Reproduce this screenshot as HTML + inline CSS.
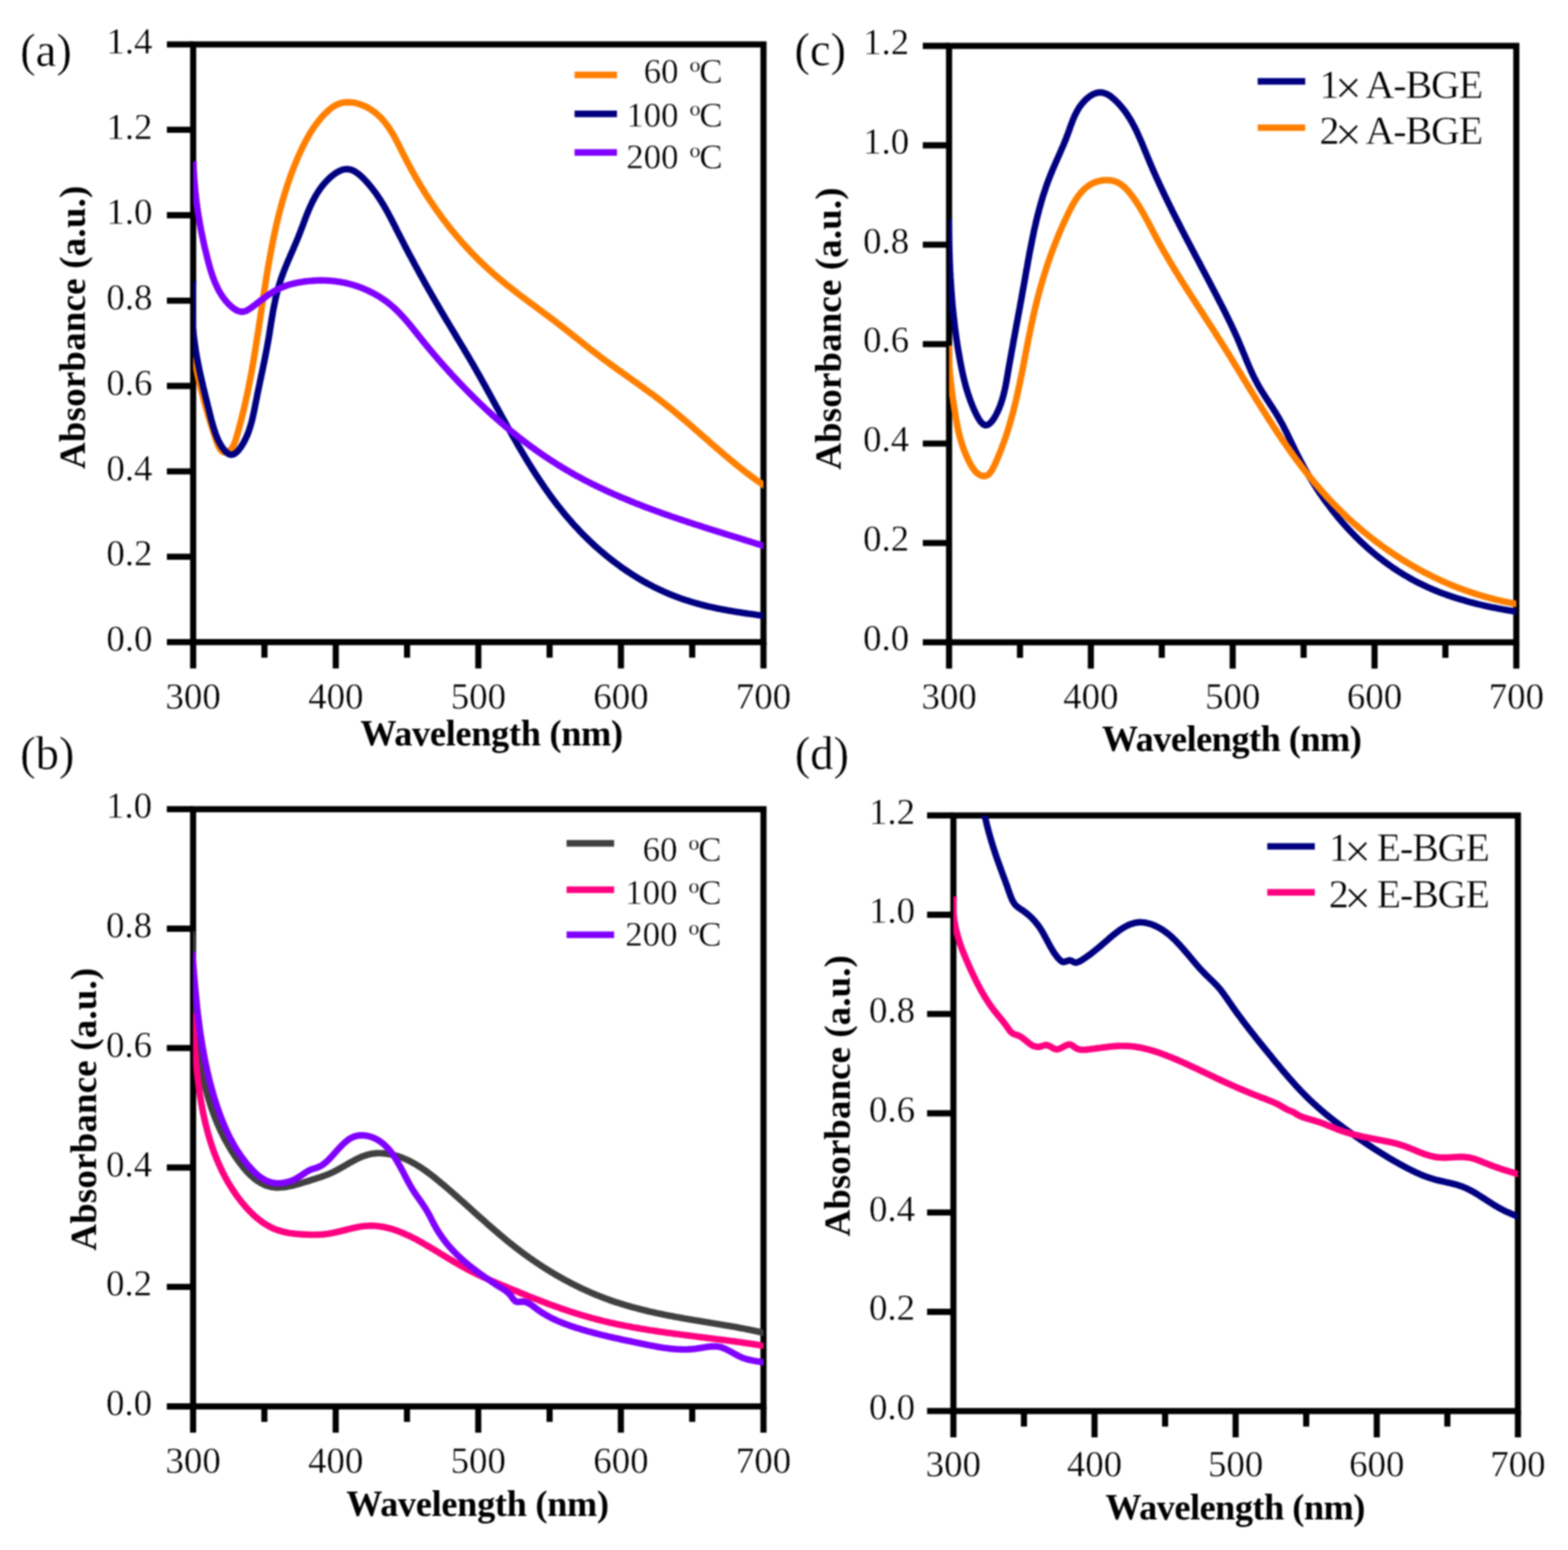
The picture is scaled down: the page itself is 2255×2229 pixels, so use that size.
<!DOCTYPE html>
<html lang="en">
<head>
<meta charset="utf-8">
<title>UV-Vis absorbance spectra</title>
<style>
html,body{margin:0;padding:0;background:#fff;}
body{width:2255px;height:2229px;overflow:hidden;}
svg{display:block;filter:blur(0.8px);}
text{font-family:'Liberation Serif', 'DejaVu Serif', serif;fill:#000;}
.ax{stroke:#000;stroke-width:8.8;fill:none;stroke-linecap:butt;stroke-linejoin:miter;}
.tk text{font-size:53px;}
.tk text,.lg text,.pl{stroke:#fff;stroke-width:0.5px;}
.ti{font-size:52.5px;font-weight:bold;}
.pl{font-size:67px;}
.cv path{fill:none;stroke-width:9.4;stroke-linejoin:round;stroke-linecap:butt;}
.ll{fill:none;stroke-width:9.4;stroke-linecap:butt;}
</style>
</head>
<body>
<svg width="2255" height="2229" viewBox="0 0 2255 2229">
<rect width="2255" height="2229" fill="#fff"/>
<g class="ax">
<rect x="277.8" y="63.9" width="820.2" height="859.5" fill="none"/>
<path d="M277.8 923.4V961.2M380.3 923.4V945.7M482.9 923.4V961.2M585.4 923.4V945.7M687.9 923.4V961.2M790.4 923.4V945.7M893.0 923.4V961.2M995.5 923.4V945.7M1098.0 923.4V961.2M277.8 923.4H240.0M277.8 800.6H240.0M277.8 677.8H240.0M277.8 555.0H240.0M277.8 432.3H240.0M277.8 309.5H240.0M277.8 186.7H240.0M277.8 63.9H240.0"/>
</g>
<g class="tk">
<text x="277.8" y="1018.9" text-anchor="middle">300</text>
<text x="482.9" y="1018.9" text-anchor="middle">400</text>
<text x="687.9" y="1018.9" text-anchor="middle">500</text>
<text x="893.0" y="1018.9" text-anchor="middle">600</text>
<text x="1098.0" y="1018.9" text-anchor="middle">700</text>
<text x="219.3" y="936.2" text-anchor="end">0.0</text>
<text x="219.3" y="813.4" text-anchor="end">0.2</text>
<text x="219.3" y="690.6" text-anchor="end">0.4</text>
<text x="219.3" y="567.8" text-anchor="end">0.6</text>
<text x="219.3" y="445.1" text-anchor="end">0.8</text>
<text x="219.3" y="322.3" text-anchor="end">1.0</text>
<text x="219.3" y="199.5" text-anchor="end">1.2</text>
<text x="219.3" y="76.7" text-anchor="end">1.4</text>
</g>
<text class="ti" x="706.9" y="1072.0" text-anchor="middle" style="font-size:52px;letter-spacing:-0.35px">Wavelength (nm)</text>
<text class="ti" transform="translate(122.0 470.6) rotate(-90)" text-anchor="middle" style="font-size:53px;letter-spacing:0.35px">Absorbance (a.u.)</text>
<text class="pl" x="29.0" y="94.6">(a)</text>
<clipPath id="ca"><rect x="277.8" y="63.9" width="820.2" height="859.5"/></clipPath>
<g class="cv" clip-path="url(#ca)">
<path stroke="#FF8000" d="M278.8 512.5L279.6 516.7L280.4 520.9L281.3 524.9L282.1 528.9L283.0 532.8L283.8 536.7L284.6 540.5L285.5 544.2L286.3 547.9L287.2 551.6L288.1 555.3L289.0 558.9L289.9 562.5L290.8 566.1L291.7 569.7L292.7 573.3L293.7 576.9L294.7 580.5L295.7 584.2L296.7 587.8L297.8 591.5L298.9 595.3L300.0 599.1L301.2 602.9L302.4 606.8L303.6 610.8L304.9 614.8L306.2 618.9L307.5 623.1L308.9 627.4L310.4 631.7L311.9 636.0L313.5 640.1L315.3 643.7L317.3 646.7L319.5 649.0L321.9 650.3L324.7 650.5L327.7 649.6L330.5 647.8L332.9 645.4L335.0 642.4L336.6 639.1L338.0 635.4L339.3 631.6L340.4 627.7L341.5 623.8L342.6 619.9L343.7 616.0L344.7 612.1L345.7 608.3L346.8 604.4L347.7 600.5L348.7 596.7L349.6 592.8L350.6 588.9L351.5 585.1L352.3 581.2L353.2 577.4L354.0 573.5L354.9 569.7L355.7 565.8L356.5 562.0L357.3 558.2L358.0 554.3L358.8 550.5L359.5 546.7L360.3 542.8L361.0 539.0L361.7 535.2L362.4 531.3L363.0 527.5L363.7 523.7L364.4 519.9L365.0 516.0L365.6 512.2L366.3 508.4L366.9 504.6L367.5 500.7L368.1 496.9L368.7 493.1L369.3 489.3L369.9 485.5L370.5 481.6L371.1 477.8L371.7 474.0L372.3 470.1L372.8 466.3L373.4 462.5L374.0 458.7L374.6 454.8L375.1 451.0L375.7 447.1L376.3 443.3L376.8 439.5L377.4 435.6L378.0 431.8L378.6 427.9L379.2 424.0L379.8 420.2L380.4 416.3L381.0 412.5L381.6 408.6L382.2 404.7L382.8 400.8L383.4 397.0L384.1 393.1L384.7 389.2L385.4 385.3L386.0 381.5L386.7 377.6L387.4 373.7L388.1 369.8L388.8 366.0L389.5 362.1L390.3 358.2L391.0 354.4L391.8 350.5L392.5 346.6L393.3 342.8L394.1 338.9L394.9 335.1L395.8 331.2L396.6 327.4L397.5 323.6L398.4 319.7L399.3 315.9L400.2 312.1L401.2 308.3L402.1 304.5L403.1 300.7L404.1 296.9L405.2 293.1L406.2 289.4L407.3 285.6L408.4 281.9L409.5 278.1L410.7 274.4L411.9 270.7L413.0 267.0L414.3 263.3L415.5 259.6L416.8 256.0L418.1 252.3L419.4 248.7L420.8 245.1L422.2 241.4L423.6 237.8L425.1 234.3L426.6 230.7L428.1 227.1L429.6 223.6L431.2 220.1L432.8 216.6L434.4 213.1L436.1 209.6L437.9 206.2L439.6 202.8L441.5 199.4L443.4 196.0L445.3 192.7L447.3 189.4L449.4 186.1L451.6 182.8L453.9 179.6L456.3 176.5L458.7 173.3L461.3 170.2L464.0 167.2L466.7 164.2L469.7 161.3L472.7 158.5L475.8 155.8L479.1 153.5L482.5 151.4L486.0 149.8L489.6 148.5L493.3 147.6L497.1 147.2L500.9 147.0L504.8 147.2L508.6 147.7L512.5 148.4L516.3 149.5L520.0 150.8L523.7 152.3L527.3 154.0L530.8 155.9L534.1 157.9L537.3 160.2L540.3 162.5L543.2 165.0L546.0 167.6L548.6 170.3L551.2 173.1L553.6 176.1L555.9 179.1L558.2 182.2L560.3 185.4L562.4 188.6L564.4 192.0L566.4 195.3L568.3 198.8L570.1 202.2L572.0 205.7L573.8 209.3L575.5 212.8L577.3 216.4L579.1 219.9L580.9 223.5L582.7 227.0L584.5 230.5L586.3 234.1L588.2 237.6L590.1 241.0L591.9 244.5L593.9 248.0L595.8 251.4L597.7 254.8L599.7 258.2L601.7 261.6L603.7 265.0L605.7 268.4L607.8 271.7L609.8 275.0L611.9 278.4L614.0 281.7L616.2 284.9L618.3 288.2L620.5 291.4L622.7 294.7L624.9 297.9L627.1 301.1L629.4 304.3L631.6 307.4L633.9 310.6L636.2 313.7L638.6 316.8L640.9 319.9L643.3 322.9L645.7 326.0L648.1 329.0L650.5 332.0L653.0 335.0L655.5 338.0L658.0 341.0L660.5 343.9L663.0 346.8L665.6 349.8L668.2 352.6L670.8 355.5L673.4 358.3L676.1 361.2L678.7 364.0L681.4 366.8L684.2 369.5L686.9 372.3L689.7 375.0L692.4 377.7L695.2 380.4L698.1 383.0L700.9 385.7L703.8 388.3L706.7 390.9L709.6 393.5L712.5 396.1L715.5 398.6L718.5 401.1L721.5 403.6L724.5 406.1L727.5 408.6L730.6 411.0L733.7 413.4L736.8 415.9L739.8 418.3L743.0 420.7L746.1 423.1L749.2 425.4L752.3 427.8L755.5 430.2L758.6 432.5L761.8 434.9L764.9 437.2L768.1 439.5L771.2 441.9L774.4 444.2L777.5 446.5L780.7 448.9L783.8 451.2L786.9 453.6L790.1 455.9L793.2 458.3L796.3 460.6L799.4 463.0L802.5 465.4L805.6 467.7L808.6 470.1L811.7 472.5L814.7 474.9L817.8 477.3L820.8 479.7L823.8 482.1L826.8 484.5L829.9 486.9L832.9 489.3L835.9 491.7L838.9 494.1L842.0 496.5L845.0 498.9L848.0 501.3L851.1 503.7L854.1 506.0L857.2 508.4L860.3 510.7L863.4 513.1L866.5 515.4L869.6 517.7L872.7 520.0L875.8 522.3L879.0 524.6L882.1 526.8L885.3 529.1L888.4 531.4L891.6 533.6L894.8 535.9L897.9 538.2L901.1 540.4L904.3 542.7L907.5 544.9L910.6 547.2L913.8 549.5L917.0 551.7L920.1 554.0L923.3 556.3L926.5 558.6L929.6 560.9L932.8 563.2L935.9 565.5L939.1 567.8L942.2 570.1L945.3 572.5L948.4 574.9L951.5 577.2L954.6 579.6L957.6 582.0L960.7 584.5L963.7 586.9L966.8 589.4L969.8 591.8L972.8 594.3L975.8 596.8L978.8 599.3L981.8 601.9L984.7 604.4L987.7 606.9L990.7 609.5L993.6 612.0L996.6 614.6L999.5 617.2L1002.4 619.7L1005.4 622.3L1008.3 624.9L1011.3 627.5L1014.2 630.0L1017.1 632.6L1020.1 635.2L1023.0 637.7L1025.9 640.3L1028.9 642.9L1031.8 645.4L1034.8 648.0L1037.8 650.5L1040.7 653.1L1043.7 655.6L1046.7 658.1L1049.7 660.6L1052.7 663.1L1055.7 665.6L1058.7 668.0L1061.7 670.5L1064.8 672.9L1067.8 675.3L1070.9 677.7L1074.0 680.1L1077.1 682.5L1080.2 684.8L1083.4 687.1L1086.5 689.4L1089.7 691.7L1092.9 693.9L1096.1 696.1L1099.3 698.3L1102.6 700.5L1105.8 702.6L1109.1 704.7L1112.5 706.8L1115.8 708.9L1119.2 710.9L1122.6 712.9"/>
<path stroke="#000080" d="M277.8 404.7L277.4 409.2L277.0 413.7L276.8 418.2L276.5 422.6L276.3 427.0L276.2 431.3L276.1 435.6L276.1 439.9L276.1 444.1L276.2 448.4L276.3 452.5L276.5 456.7L276.7 460.8L277.0 465.0L277.3 469.1L277.6 473.1L278.0 477.2L278.4 481.2L278.9 485.3L279.4 489.3L279.9 493.3L280.5 497.3L281.1 501.3L281.7 505.3L282.4 509.3L283.1 513.3L283.8 517.3L284.6 521.2L285.4 525.2L286.2 529.2L287.0 533.2L287.9 537.2L288.8 541.3L289.7 545.3L290.6 549.3L291.6 553.4L292.5 557.5L293.5 561.6L294.5 565.7L295.5 569.8L296.5 574.0L297.6 578.2L298.6 582.4L299.7 586.6L300.8 590.9L301.8 595.2L302.9 599.5L304.0 603.9L305.2 608.2L306.4 612.5L307.7 616.7L309.0 620.9L310.5 625.0L312.0 628.9L313.7 632.8L315.5 636.4L317.5 639.9L319.6 643.2L321.9 646.3L324.4 649.2L327.1 651.7L329.9 653.4L332.7 654.0L335.6 653.4L338.5 651.8L341.2 649.4L343.9 646.3L346.5 642.8L348.9 639.0L351.1 635.1L353.1 631.1L354.9 627.2L356.6 623.1L358.1 619.1L359.4 615.0L360.7 610.9L361.8 606.8L362.9 602.7L363.8 598.5L364.7 594.4L365.6 590.2L366.4 586.1L367.2 581.9L368.0 577.8L368.9 573.7L369.7 569.5L370.5 565.4L371.4 561.3L372.2 557.3L373.1 553.2L373.9 549.1L374.8 545.0L375.6 541.0L376.5 536.9L377.4 532.8L378.2 528.8L379.0 524.7L379.9 520.6L380.7 516.6L381.5 512.5L382.3 508.4L383.1 504.3L383.9 500.2L384.6 496.1L385.4 492.0L386.1 487.9L386.8 483.7L387.5 479.6L388.1 475.4L388.8 471.3L389.4 467.1L390.1 462.9L390.8 458.8L391.5 454.6L392.2 450.5L392.9 446.3L393.7 442.2L394.5 438.0L395.4 433.9L396.2 429.8L397.2 425.7L398.2 421.6L399.2 417.6L400.3 413.6L401.5 409.6L402.7 405.6L404.0 401.6L405.4 397.7L406.8 393.8L408.3 389.9L409.8 386.0L411.4 382.2L413.0 378.3L414.6 374.4L416.3 370.6L417.9 366.8L419.6 362.9L421.3 359.1L422.9 355.2L424.6 351.4L426.2 347.5L427.8 343.7L429.4 339.8L430.9 335.9L432.4 332.0L433.9 328.0L435.4 324.1L436.9 320.2L438.3 316.2L439.8 312.3L441.4 308.4L442.9 304.6L444.6 300.7L446.2 296.9L448.0 293.1L449.8 289.3L451.7 285.7L453.7 282.0L455.9 278.4L458.1 274.9L460.5 271.4L463.0 268.0L465.7 264.7L468.5 261.5L471.5 258.4L474.7 255.3L478.1 252.4L481.6 249.8L485.2 247.5L488.8 245.6L492.5 244.2L496.2 243.4L499.9 243.2L503.6 243.8L507.2 245.0L510.7 246.8L514.1 249.1L517.5 251.8L520.7 254.7L523.9 257.9L526.9 261.1L529.8 264.4L532.6 267.7L535.3 271.1L537.9 274.5L540.5 277.9L542.9 281.4L545.2 284.9L547.5 288.4L549.7 291.9L551.9 295.5L554.0 299.1L556.0 302.7L558.0 306.3L560.0 310.0L561.9 313.7L563.8 317.3L565.7 321.0L567.6 324.7L569.4 328.4L571.3 332.1L573.2 335.8L575.1 339.5L577.0 343.2L578.9 346.9L580.8 350.6L582.7 354.3L584.6 358.0L586.6 361.7L588.5 365.4L590.5 369.1L592.5 372.8L594.5 376.4L596.4 380.1L598.4 383.8L600.5 387.5L602.5 391.2L604.5 394.9L606.5 398.5L608.6 402.2L610.6 405.9L612.7 409.6L614.7 413.2L616.8 416.9L618.9 420.5L621.0 424.2L623.1 427.8L625.2 431.5L627.3 435.1L629.4 438.7L631.5 442.3L633.6 446.0L635.7 449.6L637.9 453.2L640.0 456.8L642.1 460.4L644.3 463.9L646.4 467.5L648.6 471.1L650.7 474.7L652.8 478.2L655.0 481.8L657.1 485.4L659.3 488.9L661.4 492.5L663.6 496.1L665.7 499.6L667.9 503.2L670.0 506.8L672.1 510.3L674.2 513.9L676.3 517.5L678.4 521.1L680.5 524.7L682.6 528.3L684.7 532.0L686.7 535.6L688.8 539.2L690.9 542.9L692.9 546.5L694.9 550.2L697.0 553.8L699.0 557.5L701.0 561.2L703.1 564.9L705.1 568.5L707.1 572.2L709.1 575.9L711.1 579.6L713.1 583.3L715.2 586.9L717.2 590.6L719.2 594.3L721.2 598.0L723.3 601.7L725.3 605.3L727.3 609.0L729.4 612.7L731.4 616.4L733.5 620.0L735.5 623.7L737.6 627.3L739.7 631.0L741.8 634.6L743.8 638.3L745.9 641.9L748.1 645.5L750.2 649.1L752.3 652.8L754.5 656.3L756.6 659.9L758.8 663.5L761.0 667.1L763.2 670.6L765.4 674.2L767.7 677.7L769.9 681.2L772.2 684.7L774.5 688.2L776.8 691.7L779.2 695.2L781.5 698.6L783.9 702.1L786.3 705.5L788.7 708.9L791.1 712.3L793.6 715.6L796.1 719.0L798.6 722.3L801.1 725.6L803.7 728.9L806.3 732.2L808.9 735.4L811.6 738.7L814.2 741.9L816.9 745.0L819.7 748.2L822.4 751.3L825.2 754.5L828.0 757.6L830.9 760.6L833.8 763.7L836.7 766.7L839.6 769.7L842.6 772.6L845.6 775.5L848.6 778.5L851.6 781.3L854.7 784.2L857.8 787.0L861.0 789.8L864.1 792.5L867.3 795.2L870.5 797.9L873.8 800.6L877.0 803.2L880.3 805.8L883.6 808.3L887.0 810.8L890.4 813.3L893.7 815.8L897.2 818.2L900.6 820.5L904.1 822.8L907.6 825.1L911.1 827.4L914.6 829.6L918.2 831.8L921.8 833.9L925.4 836.0L929.1 838.0L932.7 840.0L936.4 841.9L940.1 843.9L943.9 845.7L947.6 847.5L951.4 849.3L955.2 851.0L959.0 852.7L962.9 854.3L966.7 855.9L970.6 857.4L974.5 858.9L978.4 860.4L982.4 861.7L986.4 863.1L990.4 864.3L994.4 865.6L998.4 866.8L1002.4 867.9L1006.5 869.0L1010.6 870.1L1014.6 871.1L1018.7 872.1L1022.8 873.0L1026.9 873.9L1031.1 874.8L1035.2 875.6L1039.3 876.5L1043.5 877.2L1047.6 878.0L1051.8 878.7L1055.9 879.4L1060.1 880.1L1064.2 880.7L1068.4 881.4L1072.6 882.0L1076.7 882.6L1080.9 883.2L1085.0 883.7L1089.1 884.3L1093.3 884.8L1097.4 885.3L1101.5 885.8L1105.6 886.4L1109.7 886.8L1113.8 887.3L1117.8 887.8L1121.9 888.3"/>
<path stroke="#8000FF" d="M278.1 231.9L278.2 234.9L278.3 237.9L278.4 240.8L278.5 243.8L278.7 246.8L278.9 249.7L279.0 252.6L279.2 255.5L279.4 258.4L279.6 261.3L279.9 264.2L280.1 267.1L280.4 269.9L280.6 272.8L280.9 275.6L281.2 278.5L281.5 281.3L281.8 284.1L282.2 287.0L282.5 289.8L282.9 292.6L283.2 295.4L283.6 298.2L284.0 301.0L284.4 303.8L284.9 306.6L285.3 309.4L285.7 312.1L286.2 314.9L286.7 317.7L287.2 320.5L287.7 323.3L288.2 326.1L288.7 328.9L289.3 331.7L289.8 334.5L290.4 337.3L291.0 340.1L291.6 342.9L292.2 345.7L292.8 348.5L293.4 351.3L294.0 354.1L294.7 357.0L295.4 359.8L296.1 362.7L296.8 365.5L297.5 368.4L298.2 371.3L298.9 374.1L299.7 377.0L300.5 379.9L301.3 382.8L302.1 385.7L302.9 388.5L303.8 391.4L304.8 394.2L305.7 397.0L306.7 399.8L307.8 402.5L308.8 405.3L310.0 408.0L311.2 410.6L312.4 413.2L313.7 415.8L315.0 418.3L316.5 420.8L317.9 423.3L319.5 425.6L321.1 428.0L322.8 430.2L324.5 432.4L326.3 434.6L328.2 436.6L330.2 438.6L332.3 440.5L334.5 442.4L336.7 444.0L339.0 445.5L341.4 446.8L343.8 447.7L346.3 448.2L348.8 448.3L351.4 447.9L354.0 447.0L356.6 445.6L359.2 444.0L361.8 442.2L364.3 440.3L366.8 438.4L369.3 436.5L371.7 434.6L374.1 432.8L376.5 431.0L378.9 429.2L381.3 427.4L383.7 425.7L386.0 424.1L388.4 422.4L390.8 420.9L393.3 419.4L395.7 418.0L398.2 416.6L400.7 415.4L403.3 414.2L405.9 413.1L408.5 412.0L411.2 411.0L413.9 410.1L416.6 409.3L419.3 408.5L422.1 407.8L424.8 407.2L427.6 406.6L430.4 406.0L433.3 405.6L436.1 405.1L438.9 404.7L441.8 404.4L444.6 404.1L447.5 403.9L450.3 403.7L453.2 403.5L456.0 403.4L458.9 403.3L461.7 403.3L464.5 403.3L467.4 403.4L470.2 403.5L473.1 403.6L475.9 403.8L478.7 404.1L481.6 404.4L484.4 404.8L487.2 405.2L490.0 405.6L492.9 406.2L495.7 406.7L498.5 407.3L501.3 408.0L504.1 408.8L506.9 409.5L509.7 410.4L512.4 411.3L515.2 412.2L517.9 413.2L520.6 414.2L523.3 415.3L526.0 416.5L528.6 417.6L531.3 418.9L533.9 420.2L536.5 421.5L539.0 422.9L541.5 424.3L544.0 425.8L546.5 427.3L548.9 428.9L551.3 430.5L553.7 432.1L556.0 433.8L558.3 435.5L560.5 437.3L562.7 439.2L564.8 441.0L567.0 442.9L569.0 444.9L571.1 446.8L573.1 448.9L575.1 450.9L577.0 453.0L579.0 455.1L580.9 457.2L582.8 459.3L584.6 461.5L586.5 463.6L588.3 465.8L590.2 468.1L592.0 470.3L593.8 472.5L595.6 474.7L597.4 477.0L599.2 479.2L601.0 481.5L602.8 483.7L604.6 486.0L606.4 488.2L608.2 490.5L610.0 492.7L611.9 495.0L613.7 497.2L615.5 499.4L617.4 501.6L619.2 503.9L621.1 506.1L623.0 508.3L624.8 510.5L626.7 512.7L628.6 514.9L630.5 517.1L632.4 519.3L634.3 521.5L636.2 523.6L638.1 525.8L640.0 528.0L642.0 530.1L643.9 532.3L645.9 534.4L647.8 536.6L649.8 538.7L651.7 540.9L653.7 543.0L655.7 545.1L657.6 547.2L659.6 549.3L661.6 551.4L663.6 553.5L665.6 555.6L667.6 557.7L669.7 559.8L671.7 561.8L673.7 563.9L675.8 566.0L677.8 568.0L679.9 570.1L681.9 572.1L684.0 574.1L686.0 576.1L688.1 578.1L690.2 580.2L692.3 582.2L694.4 584.1L696.5 586.1L698.6 588.1L700.7 590.1L702.9 592.0L705.0 594.0L707.1 595.9L709.3 597.9L711.4 599.8L713.6 601.7L715.8 603.6L717.9 605.5L720.1 607.4L722.3 609.3L724.5 611.2L726.7 613.0L728.9 614.9L731.1 616.7L733.3 618.6L735.6 620.4L737.8 622.2L740.0 624.0L742.3 625.8L744.5 627.6L746.8 629.4L749.1 631.2L751.4 632.9L753.6 634.7L755.9 636.4L758.2 638.1L760.5 639.9L762.8 641.6L765.2 643.3L767.5 644.9L769.8 646.6L772.2 648.3L774.5 649.9L776.9 651.6L779.2 653.2L781.6 654.8L784.0 656.5L786.3 658.1L788.7 659.6L791.1 661.2L793.5 662.8L795.9 664.3L798.4 665.9L800.8 667.4L803.2 668.9L805.7 670.4L808.1 671.9L810.6 673.4L813.0 674.9L815.5 676.3L818.0 677.8L820.4 679.2L822.9 680.6L825.4 682.1L827.9 683.5L830.4 684.8L833.0 686.2L835.5 687.6L838.0 688.9L840.6 690.3L843.1 691.6L845.7 692.9L848.2 694.2L850.8 695.5L853.3 696.8L855.9 698.0L858.5 699.3L861.1 700.6L863.7 701.8L866.3 703.0L868.9 704.2L871.5 705.5L874.1 706.7L876.7 707.8L879.4 709.0L882.0 710.2L884.6 711.4L887.3 712.5L889.9 713.7L892.5 714.8L895.2 715.9L897.9 717.0L900.5 718.1L903.2 719.2L905.9 720.3L908.5 721.4L911.2 722.5L913.9 723.6L916.6 724.6L919.3 725.7L922.0 726.7L924.7 727.8L927.4 728.8L930.1 729.8L932.8 730.9L935.5 731.9L938.2 732.9L940.9 733.9L943.6 734.9L946.4 735.9L949.1 736.8L951.8 737.8L954.5 738.8L957.3 739.8L960.0 740.7L962.7 741.7L965.5 742.6L968.2 743.6L971.0 744.5L973.7 745.4L976.4 746.4L979.2 747.3L981.9 748.2L984.7 749.1L987.4 750.0L990.2 751.0L992.9 751.9L995.7 752.8L998.4 753.7L1001.2 754.6L1004.0 755.4L1006.7 756.3L1009.5 757.2L1012.2 758.1L1015.0 759.0L1017.8 759.9L1020.5 760.7L1023.3 761.6L1026.0 762.5L1028.8 763.3L1031.5 764.2L1034.3 765.1L1037.1 765.9L1039.8 766.8L1042.6 767.7L1045.3 768.5L1048.1 769.4L1050.8 770.2L1053.6 771.1L1056.3 771.9L1059.1 772.8L1061.8 773.6L1064.6 774.5L1067.3 775.3L1070.1 776.2L1072.8 777.1L1075.6 777.9L1078.3 778.8L1081.0 779.6L1083.8 780.5L1086.5 781.3L1089.2 782.2L1092.0 783.0L1094.7 783.9L1097.4 784.8L1100.1 785.6L1102.9 786.5L1105.6 787.4L1108.3 788.2L1111.0 789.1L1113.7 790.0L1116.4 790.8L1119.1 791.7L1121.8 792.6"/>
</g>
<g class="lg" style="font-size:50px">
<path class="ll" stroke="#FF8000" d="M826.3 107.8H887.3"/>
<text x="1039.0" y="119.1" text-anchor="end">60 <tspan dx="3.6" dy="3.6">º</tspan><tspan dx="-1.6" dy="-3.6">C</tspan></text>
<path class="ll" stroke="#000080" d="M826.3 163.8H887.3"/>
<text x="1039.0" y="182.0" text-anchor="end">100 <tspan dx="3.6" dy="3.6">º</tspan><tspan dx="-1.6" dy="-3.6">C</tspan></text>
<path class="ll" stroke="#8000FF" d="M826.3 219.3H887.3"/>
<text x="1039.0" y="241.9" text-anchor="end">200 <tspan dx="3.6" dy="3.6">º</tspan><tspan dx="-1.6" dy="-3.6">C</tspan></text>
</g>
<g class="ax">
<rect x="277.7" y="1163.7" width="820.3" height="858.8" fill="none"/>
<path d="M277.7 2022.5V2060.3M380.2 2022.5V2044.8M482.8 2022.5V2060.3M585.3 2022.5V2044.8M687.8 2022.5V2060.3M790.4 2022.5V2044.8M892.9 2022.5V2060.3M995.5 2022.5V2044.8M1098.0 2022.5V2060.3M277.7 2022.5H239.9M277.7 1850.7H239.9M277.7 1679.0H239.9M277.7 1507.2H239.9M277.7 1335.5H239.9M277.7 1163.7H239.9"/>
</g>
<g class="tk">
<text x="277.7" y="2118.3" text-anchor="middle">300</text>
<text x="482.8" y="2118.3" text-anchor="middle">400</text>
<text x="687.8" y="2118.3" text-anchor="middle">500</text>
<text x="892.9" y="2118.3" text-anchor="middle">600</text>
<text x="1098.0" y="2118.3" text-anchor="middle">700</text>
<text x="218.7" y="2035.1" text-anchor="end">0.0</text>
<text x="218.7" y="1863.3" text-anchor="end">0.2</text>
<text x="218.7" y="1691.6" text-anchor="end">0.4</text>
<text x="218.7" y="1519.8" text-anchor="end">0.6</text>
<text x="218.7" y="1348.1" text-anchor="end">0.8</text>
<text x="218.7" y="1176.3" text-anchor="end">1.0</text>
</g>
<text class="ti" x="686.7" y="2179.7" text-anchor="middle" style="font-size:52px;letter-spacing:-0.35px">Wavelength (nm)</text>
<text class="ti" transform="translate(137.7 1595.0) rotate(-90)" text-anchor="middle" style="font-size:53px;letter-spacing:0.3px">Absorbance (a.u.)</text>
<text class="pl" x="29.0" y="1106.0">(b)</text>
<clipPath id="cb"><rect x="277.7" y="1163.7" width="820.3" height="858.8"/></clipPath>
<g class="cv" clip-path="url(#cb)">
<path stroke="#404040" d="M276.0 1339.1L276.1 1342.1L276.2 1345.0L276.3 1348.0L276.4 1351.0L276.5 1354.0L276.6 1356.9L276.6 1359.9L276.7 1362.9L276.8 1365.9L276.9 1368.9L276.9 1372.0L277.0 1375.0L277.1 1378.0L277.1 1381.0L277.2 1384.1L277.3 1387.1L277.4 1390.2L277.5 1393.2L277.5 1396.3L277.6 1399.3L277.7 1402.4L277.8 1405.5L277.9 1408.5L278.0 1411.6L278.1 1414.7L278.2 1417.7L278.3 1420.8L278.4 1423.9L278.5 1427.0L278.7 1430.1L278.8 1433.1L278.9 1436.2L279.1 1439.3L279.2 1442.4L279.4 1445.5L279.6 1448.6L279.8 1451.7L279.9 1454.8L280.1 1457.9L280.4 1460.9L280.6 1464.0L280.8 1467.1L281.0 1470.2L281.3 1473.3L281.5 1476.4L281.8 1479.5L282.1 1482.6L282.4 1485.6L282.7 1488.7L283.0 1491.8L283.4 1494.9L283.7 1497.9L284.1 1501.0L284.4 1504.1L284.8 1507.1L285.2 1510.2L285.7 1513.2L286.1 1516.3L286.6 1519.3L287.0 1522.4L287.5 1525.4L288.0 1528.5L288.6 1531.5L289.1 1534.5L289.6 1537.5L290.2 1540.5L290.8 1543.5L291.4 1546.5L292.1 1549.5L292.7 1552.5L293.4 1555.5L294.1 1558.5L294.8 1561.5L295.6 1564.4L296.3 1567.4L297.1 1570.3L297.9 1573.3L298.7 1576.2L299.6 1579.1L300.5 1582.0L301.4 1584.9L302.3 1587.8L303.2 1590.7L304.2 1593.6L305.2 1596.5L306.2 1599.3L307.3 1602.2L308.3 1605.0L309.4 1607.9L310.6 1610.7L311.7 1613.5L312.9 1616.3L314.1 1619.1L315.4 1621.8L316.6 1624.6L317.9 1627.4L319.3 1630.1L320.6 1632.8L322.0 1635.6L323.4 1638.3L324.9 1641.0L326.4 1643.6L327.9 1646.3L329.4 1649.0L331.0 1651.6L332.6 1654.2L334.2 1656.9L335.9 1659.5L337.6 1662.1L339.4 1664.6L341.1 1667.2L343.0 1669.7L344.8 1672.3L346.7 1674.7L348.6 1677.2L350.6 1679.6L352.6 1682.0L354.6 1684.3L356.7 1686.5L358.8 1688.7L361.0 1690.8L363.3 1692.8L365.5 1694.7L367.9 1696.5L370.2 1698.3L372.7 1699.8L375.1 1701.3L377.7 1702.6L380.3 1703.8L382.9 1704.9L385.6 1705.8L388.4 1706.5L391.2 1707.1L394.1 1707.4L397.1 1707.7L400.1 1707.7L403.1 1707.6L406.2 1707.4L409.3 1707.1L412.5 1706.6L415.6 1706.0L418.8 1705.4L422.0 1704.6L425.2 1703.8L428.3 1703.0L431.5 1702.1L434.6 1701.1L437.7 1700.1L440.8 1699.2L443.8 1698.2L446.8 1697.2L449.7 1696.3L452.6 1695.4L455.4 1694.5L458.2 1693.6L460.9 1692.7L463.6 1691.8L466.2 1690.8L468.9 1689.8L471.5 1688.8L474.2 1687.7L476.8 1686.5L479.5 1685.3L482.1 1683.9L484.8 1682.6L487.4 1681.1L490.1 1679.6L492.8 1678.1L495.5 1676.5L498.2 1675.0L500.9 1673.4L503.6 1671.8L506.4 1670.3L509.1 1668.8L511.9 1667.3L514.7 1666.0L517.5 1664.7L520.4 1663.4L523.2 1662.3L526.1 1661.4L529.0 1660.5L531.9 1659.8L534.9 1659.2L537.9 1658.8L540.8 1658.5L543.8 1658.4L546.8 1658.4L549.8 1658.5L552.8 1658.7L555.8 1659.0L558.8 1659.5L561.8 1660.1L564.8 1660.7L567.8 1661.5L570.7 1662.3L573.6 1663.2L576.5 1664.2L579.4 1665.3L582.2 1666.5L585.0 1667.7L587.8 1669.0L590.5 1670.4L593.2 1671.8L595.9 1673.3L598.5 1674.8L601.1 1676.4L603.7 1678.0L606.2 1679.7L608.8 1681.4L611.3 1683.1L613.8 1684.9L616.2 1686.7L618.7 1688.6L621.1 1690.4L623.5 1692.3L625.9 1694.2L628.3 1696.2L630.7 1698.1L633.1 1700.1L635.4 1702.1L637.8 1704.0L640.1 1706.0L642.4 1708.0L644.8 1710.0L647.1 1712.0L649.4 1714.0L651.7 1716.0L654.0 1718.1L656.3 1720.1L658.6 1722.1L660.9 1724.2L663.2 1726.2L665.5 1728.2L667.8 1730.3L670.0 1732.3L672.3 1734.4L674.6 1736.4L676.9 1738.5L679.1 1740.5L681.4 1742.6L683.7 1744.6L686.0 1746.7L688.2 1748.7L690.5 1750.7L692.8 1752.8L695.1 1754.8L697.4 1756.8L699.7 1758.9L701.9 1760.9L704.2 1762.9L706.5 1764.9L708.8 1766.9L711.1 1768.9L713.5 1770.9L715.8 1772.9L718.1 1774.9L720.4 1776.9L722.8 1778.8L725.1 1780.8L727.5 1782.7L729.8 1784.7L732.2 1786.6L734.6 1788.5L737.0 1790.4L739.4 1792.3L741.8 1794.2L744.2 1796.0L746.6 1797.9L749.1 1799.7L751.5 1801.5L754.0 1803.4L756.5 1805.2L758.9 1806.9L761.4 1808.7L763.9 1810.5L766.4 1812.2L769.0 1814.0L771.5 1815.7L774.0 1817.4L776.6 1819.1L779.1 1820.7L781.7 1822.4L784.3 1824.0L786.9 1825.7L789.5 1827.3L792.1 1828.9L794.7 1830.4L797.3 1832.0L800.0 1833.6L802.6 1835.1L805.3 1836.6L807.9 1838.1L810.6 1839.6L813.3 1841.1L816.0 1842.5L818.7 1843.9L821.4 1845.4L824.1 1846.7L826.8 1848.1L829.6 1849.5L832.3 1850.8L835.1 1852.2L837.8 1853.5L840.6 1854.7L843.4 1856.0L846.2 1857.3L849.0 1858.5L851.8 1859.7L854.6 1860.9L857.4 1862.1L860.2 1863.2L863.1 1864.3L865.9 1865.5L868.8 1866.5L871.6 1867.6L874.5 1868.7L877.4 1869.7L880.2 1870.7L883.1 1871.7L886.0 1872.7L888.9 1873.6L891.8 1874.5L894.8 1875.4L897.7 1876.3L900.6 1877.2L903.6 1878.1L906.5 1878.9L909.5 1879.7L912.4 1880.5L915.4 1881.3L918.3 1882.1L921.3 1882.9L924.3 1883.6L927.3 1884.3L930.2 1885.1L933.2 1885.8L936.2 1886.5L939.2 1887.1L942.2 1887.8L945.2 1888.5L948.2 1889.1L951.2 1889.7L954.2 1890.4L957.2 1891.0L960.2 1891.6L963.2 1892.2L966.3 1892.7L969.3 1893.3L972.3 1893.9L975.3 1894.4L978.3 1895.0L981.3 1895.5L984.4 1896.1L987.4 1896.6L990.4 1897.1L993.4 1897.7L996.4 1898.2L999.4 1898.7L1002.5 1899.2L1005.5 1899.7L1008.5 1900.2L1011.5 1900.7L1014.5 1901.2L1017.5 1901.7L1020.5 1902.2L1023.5 1902.7L1026.5 1903.1L1029.5 1903.6L1032.5 1904.1L1035.5 1904.6L1038.5 1905.1L1041.5 1905.6L1044.5 1906.1L1047.5 1906.6L1050.4 1907.2L1053.4 1907.7L1056.4 1908.2L1059.4 1908.7L1062.4 1909.3L1065.4 1909.9L1068.4 1910.4L1071.3 1911.0L1074.3 1911.6L1077.3 1912.2L1080.3 1912.8L1083.3 1913.4L1086.3 1914.1L1089.2 1914.7L1092.2 1915.4L1095.2 1916.1L1098.2 1916.8L1101.2 1917.5L1104.2 1918.2L1107.2 1919.0L1110.2 1919.8L1113.1 1920.6L1116.1 1921.4L1119.1 1922.3L1122.1 1923.1"/>
<path stroke="#FF0080" d="M276.5 1456.7L276.6 1459.3L276.8 1462.0L277.0 1464.7L277.2 1467.4L277.4 1470.1L277.6 1472.8L277.8 1475.5L278.0 1478.3L278.2 1481.0L278.4 1483.7L278.5 1486.5L278.7 1489.2L278.9 1492.0L279.1 1494.7L279.4 1497.5L279.6 1500.3L279.8 1503.0L280.0 1505.8L280.2 1508.6L280.4 1511.4L280.7 1514.1L280.9 1516.9L281.2 1519.7L281.4 1522.5L281.7 1525.3L281.9 1528.1L282.2 1530.9L282.5 1533.7L282.8 1536.5L283.1 1539.3L283.4 1542.1L283.7 1544.9L284.0 1547.7L284.3 1550.5L284.7 1553.4L285.0 1556.2L285.4 1559.0L285.7 1561.8L286.1 1564.6L286.5 1567.4L286.9 1570.2L287.3 1573.0L287.8 1575.8L288.2 1578.5L288.7 1581.3L289.1 1584.1L289.6 1586.9L290.1 1589.7L290.6 1592.5L291.1 1595.2L291.7 1598.0L292.2 1600.7L292.8 1603.5L293.4 1606.3L294.0 1609.0L294.6 1611.7L295.2 1614.5L295.9 1617.2L296.6 1619.9L297.3 1622.6L298.0 1625.4L298.7 1628.1L299.4 1630.8L300.2 1633.4L301.0 1636.1L301.8 1638.8L302.6 1641.5L303.4 1644.1L304.3 1646.8L305.2 1649.4L306.1 1652.0L307.0 1654.6L308.0 1657.2L308.9 1659.8L309.9 1662.4L311.0 1665.0L312.0 1667.6L313.1 1670.1L314.2 1672.7L315.3 1675.2L316.4 1677.7L317.6 1680.2L318.8 1682.7L320.0 1685.2L321.2 1687.7L322.5 1690.1L323.8 1692.6L325.1 1695.0L326.4 1697.4L327.8 1699.8L329.2 1702.2L330.7 1704.6L332.1 1707.0L333.6 1709.3L335.1 1711.6L336.7 1713.9L338.2 1716.2L339.9 1718.5L341.5 1720.8L343.2 1723.0L344.9 1725.3L346.6 1727.5L348.4 1729.7L350.2 1731.8L352.0 1734.0L353.8 1736.1L355.7 1738.2L357.7 1740.3L359.6 1742.3L361.6 1744.3L363.6 1746.3L365.7 1748.2L367.8 1750.1L369.9 1751.9L372.1 1753.6L374.3 1755.3L376.5 1757.0L378.8 1758.6L381.1 1760.1L383.4 1761.5L385.8 1762.9L388.2 1764.2L390.7 1765.5L393.1 1766.6L395.7 1767.7L398.2 1768.6L400.8 1769.5L403.4 1770.3L406.1 1771.1L408.8 1771.7L411.5 1772.3L414.2 1772.8L416.9 1773.3L419.7 1773.7L422.4 1774.0L425.2 1774.3L427.9 1774.6L430.7 1774.8L433.5 1775.0L436.2 1775.2L439.0 1775.3L441.7 1775.4L444.4 1775.5L447.1 1775.6L449.8 1775.6L452.4 1775.6L455.1 1775.6L457.8 1775.5L460.4 1775.4L463.1 1775.2L465.8 1775.0L468.4 1774.7L471.1 1774.4L473.8 1773.9L476.5 1773.5L479.2 1772.9L481.9 1772.4L484.6 1771.7L487.3 1771.1L490.0 1770.4L492.7 1769.7L495.5 1769.1L498.2 1768.4L501.0 1767.7L503.7 1767.0L506.4 1766.4L509.2 1765.7L511.9 1765.2L514.7 1764.6L517.4 1764.1L520.1 1763.7L522.9 1763.3L525.6 1763.1L528.3 1762.9L531.0 1762.8L533.7 1762.7L536.4 1762.8L539.1 1762.9L541.8 1763.1L544.5 1763.4L547.2 1763.8L549.9 1764.2L552.5 1764.7L555.2 1765.3L557.8 1765.9L560.5 1766.6L563.1 1767.3L565.7 1768.1L568.4 1769.0L571.0 1769.9L573.6 1770.9L576.2 1771.9L578.8 1773.0L581.4 1774.1L583.9 1775.2L586.5 1776.4L589.1 1777.6L591.6 1778.8L594.1 1780.1L596.7 1781.4L599.2 1782.7L601.7 1784.1L604.2 1785.5L606.7 1786.8L609.2 1788.3L611.6 1789.7L614.1 1791.1L616.6 1792.6L619.0 1794.0L621.4 1795.5L623.9 1796.9L626.3 1798.4L628.7 1799.8L631.1 1801.3L633.4 1802.7L635.8 1804.2L638.2 1805.6L640.5 1807.0L642.9 1808.5L645.2 1809.9L647.6 1811.3L649.9 1812.7L652.3 1814.0L654.6 1815.4L657.0 1816.8L659.3 1818.1L661.7 1819.5L664.1 1820.8L666.4 1822.1L668.8 1823.5L671.2 1824.7L673.6 1826.0L676.0 1827.3L678.5 1828.5L680.9 1829.8L683.4 1831.0L685.8 1832.2L688.3 1833.4L690.8 1834.6L693.3 1835.8L695.8 1836.9L698.4 1838.1L700.9 1839.2L703.4 1840.3L706.0 1841.5L708.5 1842.6L711.1 1843.7L713.7 1844.8L716.3 1845.9L718.8 1847.0L721.4 1848.1L724.0 1849.1L726.6 1850.2L729.2 1851.3L731.7 1852.4L734.3 1853.5L736.9 1854.5L739.5 1855.6L742.1 1856.7L744.7 1857.7L747.3 1858.8L749.9 1859.9L752.5 1860.9L755.1 1862.0L757.7 1863.0L760.2 1864.1L762.8 1865.1L765.5 1866.1L768.1 1867.2L770.7 1868.2L773.3 1869.2L775.9 1870.2L778.5 1871.2L781.1 1872.2L783.7 1873.2L786.3 1874.2L788.9 1875.2L791.6 1876.1L794.2 1877.1L796.8 1878.0L799.4 1879.0L802.1 1879.9L804.7 1880.8L807.3 1881.8L810.0 1882.7L812.6 1883.6L815.2 1884.5L817.9 1885.4L820.5 1886.2L823.2 1887.1L825.8 1887.9L828.5 1888.8L831.1 1889.6L833.8 1890.4L836.5 1891.2L839.1 1892.0L841.8 1892.8L844.5 1893.6L847.2 1894.3L849.8 1895.1L852.5 1895.8L855.2 1896.5L857.9 1897.3L860.6 1897.9L863.3 1898.6L866.0 1899.3L868.7 1900.0L871.4 1900.6L874.1 1901.2L876.8 1901.9L879.5 1902.5L882.2 1903.1L884.9 1903.7L887.7 1904.3L890.4 1904.8L893.1 1905.4L895.8 1905.9L898.6 1906.5L901.3 1907.0L904.0 1907.5L906.8 1908.0L909.5 1908.6L912.3 1909.1L915.0 1909.5L917.8 1910.0L920.5 1910.5L923.3 1911.0L926.0 1911.4L928.8 1911.9L931.5 1912.3L934.3 1912.8L937.0 1913.2L939.8 1913.6L942.5 1914.0L945.3 1914.5L948.1 1914.9L950.8 1915.3L953.6 1915.7L956.4 1916.1L959.1 1916.5L961.9 1916.8L964.7 1917.2L967.4 1917.6L970.2 1918.0L973.0 1918.3L975.8 1918.7L978.5 1919.1L981.3 1919.4L984.1 1919.8L986.8 1920.2L989.6 1920.5L992.4 1920.9L995.2 1921.2L997.9 1921.6L1000.7 1921.9L1003.5 1922.3L1006.3 1922.6L1009.0 1923.0L1011.8 1923.3L1014.6 1923.7L1017.4 1924.0L1020.1 1924.4L1022.9 1924.7L1025.7 1925.1L1028.5 1925.4L1031.2 1925.8L1034.0 1926.1L1036.8 1926.5L1039.5 1926.8L1042.3 1927.2L1045.1 1927.6L1047.8 1927.9L1050.6 1928.3L1053.4 1928.7L1056.1 1929.0L1058.9 1929.4L1061.7 1929.8L1064.4 1930.2L1067.2 1930.6L1069.9 1931.0L1072.7 1931.4L1075.5 1931.8L1078.2 1932.2L1081.0 1932.6L1083.7 1933.0L1086.5 1933.5L1089.2 1933.9L1091.9 1934.3L1094.7 1934.8L1097.4 1935.2L1100.2 1935.7L1102.9 1936.2L1105.6 1936.7L1108.4 1937.1L1111.1 1937.6L1113.8 1938.1L1116.5 1938.6L1119.3 1939.2L1122.0 1939.7"/>
<path stroke="#8000FF" d="M276.5 1368.9L276.7 1372.0L277.0 1375.1L277.2 1378.2L277.4 1381.4L277.7 1384.5L277.9 1387.6L278.2 1390.7L278.4 1393.9L278.7 1397.0L278.9 1400.1L279.2 1403.3L279.4 1406.4L279.7 1409.5L280.0 1412.7L280.2 1415.8L280.5 1419.0L280.8 1422.1L281.1 1425.2L281.4 1428.4L281.7 1431.5L282.0 1434.6L282.3 1437.8L282.6 1440.9L282.9 1444.1L283.3 1447.2L283.6 1450.3L284.0 1453.5L284.3 1456.6L284.7 1459.7L285.1 1462.9L285.5 1466.0L285.9 1469.1L286.3 1472.2L286.7 1475.4L287.1 1478.5L287.5 1481.6L288.0 1484.7L288.4 1487.9L288.9 1491.0L289.4 1494.1L289.9 1497.2L290.4 1500.3L290.9 1503.4L291.4 1506.5L292.0 1509.6L292.5 1512.7L293.1 1515.8L293.7 1518.9L294.3 1522.0L294.9 1525.1L295.5 1528.2L296.1 1531.3L296.8 1534.3L297.5 1537.4L298.1 1540.5L298.8 1543.5L299.6 1546.6L300.3 1549.7L301.0 1552.7L301.8 1555.8L302.6 1558.8L303.4 1561.8L304.2 1564.9L305.1 1567.9L305.9 1570.9L306.8 1574.0L307.7 1577.0L308.6 1580.0L309.5 1583.0L310.5 1586.0L311.5 1589.0L312.5 1592.0L313.5 1594.9L314.5 1597.9L315.6 1600.9L316.7 1603.8L317.8 1606.8L318.9 1609.7L320.1 1612.7L321.3 1615.6L322.5 1618.5L323.7 1621.4L325.0 1624.2L326.3 1627.1L327.7 1629.9L329.0 1632.8L330.4 1635.6L331.9 1638.4L333.4 1641.1L334.9 1643.9L336.4 1646.6L338.0 1649.3L339.6 1652.0L341.3 1654.7L343.0 1657.3L344.8 1659.9L346.6 1662.5L348.4 1665.1L350.3 1667.6L352.2 1670.1L354.2 1672.6L356.2 1675.0L358.3 1677.4L360.4 1679.8L362.6 1682.2L364.8 1684.5L367.1 1686.7L369.4 1688.8L371.9 1690.8L374.3 1692.7L376.9 1694.5L379.5 1696.1L382.2 1697.5L385.0 1698.8L387.9 1699.8L390.8 1700.6L393.9 1701.2L397.0 1701.5L400.2 1701.6L403.4 1701.5L406.6 1701.2L409.8 1700.6L413.0 1699.9L416.2 1699.0L419.3 1698.0L422.3 1696.7L425.2 1695.3L428.0 1693.7L430.7 1692.1L433.3 1690.3L435.8 1688.6L438.4 1686.9L440.9 1685.2L443.4 1683.7L446.0 1682.4L448.7 1681.3L451.4 1680.5L454.2 1679.7L456.8 1678.8L459.4 1677.7L461.9 1676.4L464.3 1674.8L466.6 1673.1L468.9 1671.2L471.1 1669.2L473.3 1667.1L475.5 1664.8L477.6 1662.4L479.8 1660.0L482.0 1657.5L484.3 1654.9L486.6 1652.4L488.9 1649.9L491.3 1647.4L493.7 1645.0L496.2 1642.8L498.7 1640.7L501.3 1638.7L503.9 1637.0L506.7 1635.6L509.5 1634.4L512.4 1633.6L515.3 1633.0L518.3 1632.7L521.3 1632.7L524.4 1632.9L527.4 1633.3L530.4 1634.0L533.4 1634.8L536.3 1635.9L539.1 1637.1L541.9 1638.5L544.6 1640.1L547.1 1641.8L549.6 1643.6L551.9 1645.5L554.2 1647.6L556.3 1649.7L558.4 1652.0L560.5 1654.4L562.4 1656.8L564.3 1659.3L566.1 1661.9L567.8 1664.6L569.6 1667.3L571.2 1670.0L572.8 1672.8L574.4 1675.7L576.0 1678.5L577.5 1681.4L579.1 1684.3L580.6 1687.2L582.1 1690.1L583.6 1693.0L585.1 1695.9L586.6 1698.7L588.1 1701.5L589.7 1704.3L591.2 1707.0L592.8 1709.7L594.5 1712.3L596.1 1714.8L597.8 1717.3L599.5 1719.8L601.3 1722.3L603.0 1724.7L604.7 1727.2L606.4 1729.6L608.1 1732.1L609.8 1734.7L611.5 1737.2L613.1 1739.9L614.7 1742.6L616.3 1745.3L617.8 1748.2L619.3 1751.0L620.8 1754.0L622.3 1756.9L623.8 1759.8L625.3 1762.7L626.9 1765.5L628.5 1768.3L630.2 1771.0L631.9 1773.7L633.7 1776.3L635.5 1778.9L637.3 1781.4L639.2 1783.9L641.1 1786.4L643.0 1788.8L645.0 1791.2L647.0 1793.5L649.1 1795.8L651.2 1798.0L653.3 1800.3L655.5 1802.5L657.6 1804.6L659.9 1806.7L662.1 1808.8L664.4 1810.9L666.7 1813.0L669.1 1815.0L671.4 1817.0L673.8 1819.0L676.3 1820.9L678.7 1822.9L681.2 1824.8L683.7 1826.7L686.2 1828.6L688.8 1830.5L691.3 1832.4L693.9 1834.2L696.5 1836.0L699.1 1837.8L701.7 1839.6L704.4 1841.4L707.0 1843.2L709.7 1844.9L712.3 1846.7L715.0 1848.4L717.7 1850.1L720.4 1851.7L723.0 1853.4L725.6 1855.1L728.2 1856.9L730.6 1858.9L732.8 1861.1L734.8 1863.5L736.6 1866.1L738.4 1868.6L740.3 1870.6L742.5 1871.9L745.2 1872.3L748.1 1872.0L751.2 1871.8L754.2 1872.0L757.0 1872.7L759.7 1873.9L762.4 1875.4L765.0 1877.2L767.6 1879.1L770.1 1881.0L772.7 1883.0L775.3 1884.9L778.0 1886.7L780.7 1888.4L783.4 1890.0L786.1 1891.6L788.9 1893.2L791.6 1894.6L794.4 1896.1L797.3 1897.4L800.1 1898.7L803.0 1900.0L805.9 1901.2L808.8 1902.4L811.7 1903.5L814.6 1904.6L817.6 1905.7L820.5 1906.7L823.5 1907.7L826.5 1908.7L829.5 1909.7L832.5 1910.6L835.5 1911.5L838.5 1912.4L841.5 1913.3L844.5 1914.2L847.5 1915.0L850.5 1915.8L853.6 1916.6L856.6 1917.4L859.6 1918.2L862.7 1919.0L865.7 1919.8L868.8 1920.5L871.9 1921.2L874.9 1922.0L878.0 1922.7L881.1 1923.4L884.1 1924.1L887.2 1924.7L890.3 1925.4L893.4 1926.1L896.4 1926.8L899.5 1927.4L902.6 1928.1L905.7 1928.7L908.8 1929.4L911.9 1930.0L915.0 1930.7L918.1 1931.3L921.1 1931.9L924.2 1932.6L927.3 1933.2L930.4 1933.8L933.5 1934.5L936.6 1935.1L939.7 1935.7L942.8 1936.2L945.9 1936.8L948.9 1937.3L952.0 1937.8L955.1 1938.3L958.2 1938.7L961.3 1939.1L964.4 1939.5L967.5 1939.8L970.6 1940.1L973.7 1940.3L976.9 1940.4L980.0 1940.5L983.1 1940.6L986.2 1940.6L989.3 1940.5L992.4 1940.3L995.6 1940.1L998.7 1939.8L1001.8 1939.4L1005.0 1938.9L1008.1 1938.4L1011.2 1937.9L1014.4 1937.3L1017.5 1936.9L1020.6 1936.5L1023.7 1936.2L1026.7 1936.1L1029.7 1936.2L1032.7 1936.6L1035.7 1937.1L1038.6 1938.0L1041.5 1939.1L1044.3 1940.3L1047.2 1941.8L1050.0 1943.3L1052.9 1944.9L1055.7 1946.5L1058.6 1948.0L1061.4 1949.6L1064.3 1951.0L1067.3 1952.3L1070.2 1953.4L1073.2 1954.4L1076.3 1955.2L1079.3 1955.9L1082.4 1956.5L1085.5 1957.1L1088.6 1957.6L1091.7 1958.0L1094.8 1958.5L1097.9 1959.0L1101.0 1959.5L1104.1 1960.1L1107.1 1960.8L1110.2 1961.5L1113.2 1962.4L1116.2 1963.5L1119.1 1964.7L1122.1 1966.1"/>
</g>
<g class="lg" style="font-size:50px">
<path class="ll" stroke="#404040" d="M814.8 1212.7H883.2"/>
<text x="1037.5" y="1238.0" text-anchor="end">60 <tspan dx="3.6" dy="3.6">º</tspan><tspan dx="-1.6" dy="-3.6">C</tspan></text>
<path class="ll" stroke="#FF0080" d="M814.8 1279.5H883.2"/>
<text x="1037.5" y="1300.2" text-anchor="end">100 <tspan dx="3.6" dy="3.6">º</tspan><tspan dx="-1.6" dy="-3.6">C</tspan></text>
<path class="ll" stroke="#8000FF" d="M814.8 1344.2H883.2"/>
<text x="1037.5" y="1360.1" text-anchor="end">200 <tspan dx="3.6" dy="3.6">º</tspan><tspan dx="-1.6" dy="-3.6">C</tspan></text>
</g>
<g class="ax">
<rect x="1364.9" y="66.0" width="815.8" height="857.7" fill="none"/>
<path d="M1364.9 923.7V961.5M1466.9 923.7V946.0M1568.8 923.7V961.5M1670.8 923.7V946.0M1772.8 923.7V961.5M1874.8 923.7V946.0M1976.8 923.7V961.5M2078.7 923.7V946.0M2180.7 923.7V961.5M1364.9 923.7H1327.1M1364.9 780.8H1327.1M1364.9 637.8H1327.1M1364.9 494.8H1327.1M1364.9 351.9H1327.1M1364.9 209.0H1327.1M1364.9 66.0H1327.1"/>
</g>
<g class="tk">
<text x="1364.9" y="1018.5" text-anchor="middle">300</text>
<text x="1568.8" y="1018.5" text-anchor="middle">400</text>
<text x="1772.8" y="1018.5" text-anchor="middle">500</text>
<text x="1976.8" y="1018.5" text-anchor="middle">600</text>
<text x="2180.7" y="1018.5" text-anchor="middle">700</text>
<text x="1307.4" y="935.3" text-anchor="end">0.0</text>
<text x="1307.4" y="792.4" text-anchor="end">0.2</text>
<text x="1307.4" y="649.4" text-anchor="end">0.4</text>
<text x="1307.4" y="506.4" text-anchor="end">0.6</text>
<text x="1307.4" y="363.5" text-anchor="end">0.8</text>
<text x="1307.4" y="220.6" text-anchor="end">1.0</text>
<text x="1307.4" y="77.6" text-anchor="end">1.2</text>
</g>
<text class="ti" x="1771.3" y="1080.4" text-anchor="middle" style="font-size:52px;letter-spacing:-0.65px">Wavelength (nm)</text>
<text class="ti" transform="translate(1209.2 472.4) rotate(-90)" text-anchor="middle" style="font-size:53px;letter-spacing:0.25px">Absorbance (a.u.)</text>
<text class="pl" x="1142.5" y="93.6">(c)</text>
<clipPath id="cc"><rect x="1364.9" y="66.0" width="815.8" height="857.7"/></clipPath>
<g class="cv" clip-path="url(#cc)">
<path stroke="#000080" d="M1364.4 314.9L1364.4 319.6L1364.5 324.2L1364.6 328.9L1364.6 333.6L1364.7 338.3L1364.8 343.0L1364.9 347.6L1365.0 352.3L1365.2 357.0L1365.3 361.7L1365.5 366.3L1365.6 371.0L1365.8 375.7L1366.0 380.3L1366.2 385.0L1366.4 389.7L1366.7 394.3L1366.9 399.0L1367.2 403.6L1367.5 408.3L1367.8 413.0L1368.1 417.6L1368.5 422.3L1368.8 426.9L1369.2 431.5L1369.6 436.2L1370.0 440.8L1370.5 445.4L1371.0 450.1L1371.4 454.7L1372.0 459.3L1372.5 464.0L1373.0 468.6L1373.6 473.2L1374.2 477.8L1374.9 482.4L1375.5 487.0L1376.2 491.6L1376.9 496.2L1377.6 500.8L1378.4 505.4L1379.2 509.9L1380.0 514.5L1380.8 519.1L1381.7 523.6L1382.6 528.2L1383.5 532.8L1384.5 537.3L1385.5 541.9L1386.6 546.4L1387.8 551.0L1389.0 555.6L1390.3 560.1L1391.7 564.7L1393.2 569.3L1394.8 573.9L1396.5 578.6L1398.4 583.2L1400.3 587.9L1402.4 592.6L1404.7 597.2L1407.0 601.5L1409.4 605.3L1412.0 608.4L1414.6 610.5L1417.3 611.5L1420.0 611.1L1422.7 609.6L1425.4 607.1L1428.1 603.8L1430.6 599.9L1432.9 595.6L1435.1 591.2L1437.1 586.6L1438.8 582.1L1440.4 577.5L1441.8 572.9L1443.1 568.3L1444.2 563.6L1445.3 559.0L1446.3 554.3L1447.2 549.6L1448.0 544.9L1448.8 540.2L1449.6 535.6L1450.4 530.9L1451.2 526.3L1452.0 521.6L1452.9 517.0L1453.7 512.4L1454.5 507.8L1455.3 503.2L1456.2 498.6L1457.0 494.0L1457.8 489.4L1458.7 484.8L1459.5 480.3L1460.4 475.7L1461.2 471.1L1462.0 466.6L1462.9 462.0L1463.7 457.5L1464.6 452.9L1465.4 448.4L1466.3 443.8L1467.1 439.3L1467.9 434.7L1468.8 430.1L1469.6 425.6L1470.4 421.0L1471.2 416.4L1472.1 411.8L1472.9 407.3L1473.7 402.7L1474.5 398.1L1475.3 393.5L1476.1 388.9L1477.0 384.3L1477.8 379.6L1478.6 375.0L1479.5 370.4L1480.3 365.8L1481.2 361.2L1482.1 356.6L1483.0 352.0L1483.9 347.4L1484.8 342.8L1485.8 338.2L1486.7 333.6L1487.7 329.0L1488.8 324.5L1489.8 319.9L1490.9 315.4L1492.0 310.8L1493.2 306.3L1494.3 301.8L1495.6 297.3L1496.8 292.8L1498.1 288.3L1499.4 283.9L1500.8 279.4L1502.3 275.0L1503.7 270.6L1505.2 266.2L1506.8 261.9L1508.4 257.5L1510.1 253.2L1511.8 248.9L1513.6 244.6L1515.4 240.4L1517.3 236.1L1519.1 231.9L1521.0 227.6L1522.9 223.4L1524.8 219.1L1526.6 214.8L1528.5 210.6L1530.3 206.3L1532.1 201.9L1533.8 197.6L1535.4 193.1L1537.1 188.7L1538.6 184.3L1540.2 179.8L1541.9 175.4L1543.6 171.0L1545.5 166.6L1547.6 162.4L1549.8 158.2L1552.4 154.1L1555.2 150.2L1558.3 146.5L1561.8 142.9L1565.5 139.8L1569.4 137.0L1573.5 134.9L1577.6 133.5L1581.8 132.9L1585.9 133.2L1589.9 134.4L1593.8 136.3L1597.6 138.8L1601.2 141.8L1604.7 145.0L1608.1 148.3L1611.2 151.8L1614.2 155.4L1617.1 159.0L1619.8 162.8L1622.3 166.6L1624.8 170.5L1627.2 174.5L1629.4 178.6L1631.6 182.7L1633.7 186.9L1635.7 191.1L1637.6 195.4L1639.5 199.7L1641.4 204.0L1643.2 208.3L1645.0 212.7L1646.8 217.1L1648.6 221.4L1650.4 225.8L1652.2 230.1L1654.0 234.5L1655.9 238.8L1657.7 243.1L1659.6 247.4L1661.5 251.7L1663.4 256.0L1665.4 260.2L1667.3 264.5L1669.3 268.7L1671.3 272.9L1673.3 277.2L1675.3 281.4L1677.3 285.6L1679.3 289.8L1681.4 293.9L1683.4 298.1L1685.5 302.3L1687.6 306.5L1689.7 310.6L1691.8 314.8L1693.9 318.9L1696.0 323.0L1698.1 327.2L1700.2 331.3L1702.4 335.4L1704.5 339.6L1706.7 343.7L1708.8 347.8L1711.0 351.9L1713.1 356.0L1715.3 360.1L1717.5 364.2L1719.6 368.3L1721.8 372.4L1724.0 376.5L1726.2 380.7L1728.3 384.8L1730.5 388.9L1732.7 393.0L1734.9 397.1L1737.0 401.2L1739.2 405.3L1741.3 409.4L1743.5 413.6L1745.7 417.7L1747.8 421.8L1750.0 426.0L1752.1 430.1L1754.2 434.3L1756.4 438.4L1758.5 442.6L1760.6 446.7L1762.7 450.9L1764.8 455.1L1766.8 459.3L1768.9 463.5L1770.9 467.7L1772.9 471.9L1774.9 476.2L1776.8 480.4L1778.7 484.7L1780.6 489.0L1782.4 493.3L1784.2 497.6L1786.0 501.9L1787.8 506.2L1789.6 510.5L1791.3 514.8L1793.1 519.2L1794.9 523.4L1796.7 527.7L1798.6 532.0L1800.5 536.2L1802.5 540.4L1804.6 544.6L1806.7 548.7L1808.9 552.8L1811.2 556.9L1813.6 560.9L1816.1 564.9L1818.6 568.8L1821.1 572.8L1823.7 576.7L1826.2 580.6L1828.8 584.5L1831.3 588.5L1833.9 592.4L1836.3 596.4L1838.7 600.4L1841.0 604.5L1843.3 608.5L1845.5 612.6L1847.6 616.8L1849.7 620.9L1851.8 625.1L1853.8 629.3L1855.8 633.5L1857.8 637.6L1859.9 641.8L1861.9 646.0L1863.9 650.2L1866.0 654.4L1868.1 658.5L1870.3 662.7L1872.5 666.8L1874.7 670.9L1877.0 675.0L1879.3 679.1L1881.6 683.1L1884.0 687.1L1886.5 691.1L1889.0 695.1L1891.5 699.1L1894.0 703.0L1896.6 706.9L1899.2 710.8L1901.9 714.6L1904.6 718.5L1907.4 722.3L1910.2 726.0L1913.0 729.8L1915.8 733.5L1918.7 737.1L1921.7 740.8L1924.7 744.4L1927.7 748.0L1930.7 751.5L1933.8 755.0L1937.0 758.5L1940.1 761.9L1943.3 765.3L1946.6 768.6L1949.8 772.0L1953.2 775.2L1956.5 778.5L1959.9 781.7L1963.3 784.8L1966.8 787.9L1970.3 791.0L1973.8 794.0L1977.4 797.0L1981.0 799.9L1984.6 802.8L1988.3 805.6L1992.0 808.4L1995.8 811.1L1999.5 813.8L2003.3 816.5L2007.2 819.0L2011.1 821.6L2015.0 824.0L2019.0 826.5L2023.0 828.8L2027.0 831.1L2031.0 833.4L2035.1 835.6L2039.2 837.7L2043.4 839.8L2047.6 841.8L2051.8 843.8L2056.1 845.7L2060.4 847.6L2064.7 849.4L2069.0 851.1L2073.4 852.8L2077.8 854.4L2082.2 856.0L2086.6 857.5L2091.1 859.0L2095.6 860.4L2100.1 861.8L2104.6 863.1L2109.1 864.4L2113.6 865.7L2118.2 866.9L2122.8 868.1L2127.3 869.2L2131.9 870.3L2136.5 871.3L2141.1 872.3L2145.6 873.3L2150.2 874.2L2154.8 875.1L2159.4 876.0L2164.0 876.8L2168.6 877.6L2173.2 878.4L2177.7 879.2L2182.3 879.9L2186.8 880.6L2191.4 881.2L2195.9 881.9L2200.4 882.5L2204.9 883.1"/>
<path stroke="#FF8000" d="M1364.3 496.9L1364.3 500.8L1364.3 504.6L1364.4 508.5L1364.5 512.4L1364.7 516.4L1364.9 520.4L1365.1 524.3L1365.4 528.3L1365.7 532.4L1366.0 536.4L1366.4 540.4L1366.8 544.5L1367.2 548.5L1367.7 552.5L1368.2 556.6L1368.7 560.6L1369.2 564.6L1369.7 568.6L1370.3 572.6L1370.9 576.6L1371.5 580.6L1372.1 584.5L1372.7 588.4L1373.3 592.3L1373.9 596.2L1374.5 600.0L1375.2 603.8L1375.9 607.6L1376.6 611.4L1377.3 615.2L1378.1 618.9L1379.0 622.7L1379.9 626.4L1380.9 630.2L1382.0 633.9L1383.1 637.7L1384.4 641.5L1385.7 645.4L1387.2 649.2L1388.8 653.1L1390.5 657.0L1392.3 661.0L1394.3 665.0L1396.5 669.0L1398.8 672.8L1401.3 676.3L1404.1 679.4L1407.2 681.9L1410.4 683.7L1413.8 684.6L1416.9 684.5L1419.8 683.5L1422.3 681.7L1424.5 679.1L1426.5 676.1L1428.4 672.7L1430.2 669.1L1431.9 665.3L1433.5 661.6L1435.1 657.9L1436.7 654.1L1438.2 650.4L1439.7 646.6L1441.1 642.9L1442.5 639.1L1443.9 635.3L1445.2 631.5L1446.5 627.7L1447.8 623.9L1449.0 620.1L1450.2 616.2L1451.4 612.4L1452.5 608.6L1453.6 604.7L1454.7 600.9L1455.7 597.0L1456.8 593.2L1457.8 589.3L1458.7 585.4L1459.7 581.6L1460.6 577.7L1461.6 573.8L1462.5 569.9L1463.3 566.0L1464.2 562.1L1465.0 558.2L1465.9 554.3L1466.7 550.4L1467.5 546.5L1468.3 542.6L1469.1 538.7L1469.9 534.8L1470.7 530.9L1471.4 527.0L1472.2 523.1L1473.0 519.2L1473.7 515.2L1474.5 511.3L1475.2 507.4L1476.0 503.5L1476.7 499.6L1477.5 495.7L1478.3 491.8L1479.0 487.9L1479.8 484.0L1480.6 480.1L1481.4 476.2L1482.2 472.4L1483.0 468.5L1483.8 464.6L1484.7 460.7L1485.5 456.8L1486.4 453.0L1487.3 449.1L1488.1 445.3L1489.1 441.4L1490.0 437.6L1491.0 433.7L1491.9 429.9L1492.9 426.1L1493.9 422.2L1495.0 418.4L1496.0 414.6L1497.1 410.8L1498.2 407.0L1499.3 403.2L1500.4 399.4L1501.6 395.6L1502.8 391.8L1504.0 388.1L1505.2 384.3L1506.4 380.5L1507.7 376.8L1509.0 373.0L1510.3 369.2L1511.7 365.5L1513.0 361.7L1514.4 358.0L1515.8 354.3L1517.3 350.5L1518.8 346.8L1520.3 343.1L1521.8 339.3L1523.3 335.6L1524.9 331.9L1526.5 328.2L1528.1 324.5L1529.8 320.8L1531.5 317.1L1533.2 313.4L1535.0 309.7L1536.7 306.0L1538.6 302.3L1540.4 298.7L1542.3 295.1L1544.3 291.6L1546.4 288.2L1548.6 284.8L1550.8 281.6L1553.2 278.6L1555.7 275.7L1558.3 273.0L1561.1 270.4L1564.0 268.1L1567.1 266.0L1570.4 264.1L1573.8 262.5L1577.5 261.2L1581.3 260.2L1585.3 259.5L1589.5 259.1L1593.6 259.1L1597.7 259.5L1601.7 260.3L1605.4 261.6L1608.9 263.3L1612.2 265.3L1615.3 267.7L1618.2 270.3L1621.0 273.2L1623.6 276.2L1626.1 279.3L1628.6 282.5L1630.9 285.8L1633.2 289.0L1635.4 292.4L1637.6 295.7L1639.7 299.1L1641.7 302.5L1643.7 306.0L1645.7 309.5L1647.6 313.0L1649.5 316.5L1651.4 320.0L1653.3 323.5L1655.1 327.0L1657.0 330.6L1658.8 334.1L1660.7 337.6L1662.5 341.1L1664.4 344.6L1666.3 348.1L1668.3 351.6L1670.2 355.1L1672.1 358.5L1674.1 362.0L1676.1 365.4L1678.1 368.8L1680.1 372.2L1682.1 375.6L1684.1 379.0L1686.2 382.4L1688.2 385.8L1690.3 389.2L1692.4 392.6L1694.4 395.9L1696.5 399.3L1698.6 402.6L1700.7 406.0L1702.9 409.3L1705.0 412.7L1707.1 416.0L1709.2 419.3L1711.4 422.6L1713.5 426.0L1715.7 429.3L1717.8 432.6L1719.9 435.9L1722.1 439.3L1724.3 442.6L1726.4 445.9L1728.6 449.2L1730.7 452.5L1732.9 455.9L1735.0 459.2L1737.2 462.5L1739.4 465.9L1741.5 469.2L1743.7 472.5L1745.8 475.9L1747.9 479.2L1750.1 482.6L1752.2 485.9L1754.3 489.3L1756.4 492.6L1758.6 496.0L1760.7 499.4L1762.8 502.8L1764.9 506.1L1767.0 509.5L1769.1 512.9L1771.2 516.3L1773.2 519.7L1775.3 523.1L1777.4 526.5L1779.5 529.9L1781.6 533.3L1783.7 536.7L1785.7 540.2L1787.8 543.6L1789.9 547.0L1792.0 550.4L1794.1 553.8L1796.2 557.2L1798.2 560.6L1800.3 564.0L1802.4 567.4L1804.5 570.8L1806.6 574.2L1808.7 577.6L1810.9 581.0L1813.0 584.4L1815.1 587.8L1817.2 591.1L1819.4 594.5L1821.5 597.9L1823.6 601.2L1825.8 604.6L1828.0 607.9L1830.1 611.3L1832.3 614.6L1834.5 618.0L1836.7 621.3L1838.9 624.6L1841.1 627.9L1843.4 631.2L1845.6 634.5L1847.9 637.7L1850.1 641.0L1852.4 644.3L1854.7 647.5L1857.0 650.8L1859.3 654.0L1861.7 657.2L1864.0 660.4L1866.4 663.6L1868.8 666.7L1871.1 669.9L1873.6 673.1L1876.0 676.2L1878.4 679.3L1880.9 682.4L1883.4 685.5L1885.9 688.6L1888.4 691.6L1890.9 694.7L1893.5 697.7L1896.1 700.7L1898.7 703.7L1901.3 706.7L1903.9 709.6L1906.6 712.6L1909.2 715.5L1911.9 718.4L1914.7 721.3L1917.4 724.2L1920.2 727.0L1923.0 729.8L1925.8 732.6L1928.6 735.4L1931.5 738.2L1934.3 740.9L1937.2 743.7L1940.2 746.4L1943.1 749.0L1946.0 751.7L1949.0 754.3L1952.0 756.9L1955.0 759.5L1958.1 762.1L1961.1 764.7L1964.2 767.2L1967.3 769.7L1970.4 772.2L1973.5 774.6L1976.7 777.0L1979.8 779.5L1983.0 781.8L1986.2 784.2L1989.4 786.5L1992.7 788.8L1995.9 791.1L1999.2 793.4L2002.5 795.6L2005.8 797.8L2009.1 800.0L2012.5 802.1L2015.8 804.3L2019.2 806.4L2022.6 808.4L2026.0 810.5L2029.4 812.5L2032.9 814.5L2036.3 816.5L2039.8 818.4L2043.3 820.3L2046.8 822.2L2050.3 824.0L2053.8 825.8L2057.4 827.6L2060.9 829.4L2064.5 831.1L2068.1 832.8L2071.7 834.5L2075.3 836.1L2079.0 837.7L2082.6 839.3L2086.3 840.8L2089.9 842.3L2093.6 843.8L2097.3 845.3L2101.0 846.7L2104.8 848.1L2108.5 849.4L2112.3 850.7L2116.0 852.0L2119.8 853.3L2123.6 854.5L2127.4 855.7L2131.2 856.8L2135.0 857.9L2138.9 859.0L2142.7 860.1L2146.6 861.1L2150.4 862.1L2154.3 863.0L2158.2 863.9L2162.1 864.8L2166.0 865.6L2169.9 866.4L2173.8 867.2L2177.8 867.9L2181.7 868.6L2185.7 869.2L2189.6 869.8L2193.6 870.4L2197.6 870.9L2201.6 871.4L2205.6 871.9"/>
</g>
<g class="lg" style="font-size:55px">
<path class="ll" stroke="#000080" d="M1808.7 117.0H1877.1"/>
<text y="140.7" style="font-size:57.5px"><tspan x="1897.5">1</tspan><tspan x="1939.1" dy="8.6" text-anchor="middle" style="font-size:68px">×</tspan><tspan x="2131.5" dy="-8.6" text-anchor="end" style="letter-spacing:-1.6px"> A-BGE</tspan></text>
<path class="ll" stroke="#FF8000" d="M1808.7 183.6H1877.1"/>
<text y="207.3" style="font-size:57.5px"><tspan x="1897.5">2</tspan><tspan x="1939.1" dy="8.6" text-anchor="middle" style="font-size:68px">×</tspan><tspan x="2131.5" dy="-8.6" text-anchor="end" style="letter-spacing:-1.6px"> A-BGE</tspan></text>
</g>
<g class="ax">
<rect x="1371.1" y="1172.7" width="811.9" height="856.5" fill="none"/>
<path d="M1371.1 2029.2V2067.0M1472.6 2029.2V2051.5M1574.1 2029.2V2067.0M1675.6 2029.2V2051.5M1777.0 2029.2V2067.0M1878.5 2029.2V2051.5M1980.0 2029.2V2067.0M2081.5 2029.2V2051.5M2183.0 2029.2V2067.0M1371.1 2029.2H1333.3M1371.1 1886.5H1333.3M1371.1 1743.7H1333.3M1371.1 1601.0H1333.3M1371.1 1458.2H1333.3M1371.1 1315.5H1333.3M1371.1 1172.7H1333.3"/>
</g>
<g class="tk">
<text x="1371.1" y="2123.2" text-anchor="middle">300</text>
<text x="1574.1" y="2123.2" text-anchor="middle">400</text>
<text x="1777.0" y="2123.2" text-anchor="middle">500</text>
<text x="1980.0" y="2123.2" text-anchor="middle">600</text>
<text x="2183.0" y="2123.2" text-anchor="middle">700</text>
<text x="1315.9" y="2041.0" text-anchor="end">0.0</text>
<text x="1315.9" y="1898.2" text-anchor="end">0.2</text>
<text x="1315.9" y="1755.5" text-anchor="end">0.4</text>
<text x="1315.9" y="1612.8" text-anchor="end">0.6</text>
<text x="1315.9" y="1470.0" text-anchor="end">0.8</text>
<text x="1315.9" y="1327.2" text-anchor="end">1.0</text>
<text x="1315.9" y="1184.5" text-anchor="end">1.2</text>
</g>
<text class="ti" x="1776.3" y="2185.4" text-anchor="middle" style="font-size:52px;letter-spacing:-0.65px">Wavelength (nm)</text>
<text class="ti" transform="translate(1222.1 1575.8) rotate(-90)" text-anchor="middle" style="font-size:53px;letter-spacing:0.15px">Absorbance (a.u.)</text>
<text class="pl" x="1143.0" y="1106.0">(d)</text>
<clipPath id="cd"><rect x="1371.1" y="1172.7" width="811.9" height="856.5"/></clipPath>
<g class="cv" clip-path="url(#cd)">
<path stroke="#000080" d="M1410.1 1140.0L1410.5 1142.8L1411.0 1145.7L1411.4 1148.5L1411.9 1151.3L1412.4 1154.2L1412.9 1157.0L1413.5 1159.8L1414.0 1162.7L1414.6 1165.5L1415.2 1168.3L1415.8 1171.1L1416.4 1173.9L1417.0 1176.7L1417.7 1179.5L1418.4 1182.3L1419.0 1185.1L1419.7 1187.9L1420.5 1190.7L1421.2 1193.5L1421.9 1196.3L1422.7 1199.0L1423.5 1201.8L1424.3 1204.6L1425.1 1207.3L1425.9 1210.1L1426.7 1212.8L1427.6 1215.6L1428.4 1218.3L1429.3 1221.0L1430.2 1223.7L1431.1 1226.5L1432.0 1229.2L1432.9 1231.9L1433.8 1234.6L1434.8 1237.3L1435.7 1240.0L1436.7 1242.7L1437.7 1245.3L1438.6 1248.0L1439.6 1250.7L1440.6 1253.4L1441.6 1256.1L1442.6 1258.8L1443.6 1261.5L1444.6 1264.2L1445.6 1266.9L1446.6 1269.7L1447.6 1272.4L1448.6 1275.2L1449.5 1277.9L1450.5 1280.7L1451.5 1283.5L1452.5 1286.3L1453.5 1289.0L1454.6 1291.7L1455.7 1294.3L1457.1 1296.8L1458.5 1299.1L1460.2 1301.3L1462.1 1303.2L1464.2 1304.9L1466.5 1306.5L1468.8 1308.1L1471.2 1309.6L1473.5 1311.3L1475.8 1313.0L1478.0 1314.8L1480.2 1316.7L1482.3 1318.7L1484.4 1320.7L1486.4 1322.8L1488.4 1325.0L1490.2 1327.2L1492.0 1329.5L1493.8 1331.8L1495.4 1334.2L1497.0 1336.7L1498.5 1339.1L1500.0 1341.6L1501.4 1344.1L1502.8 1346.7L1504.1 1349.2L1505.5 1351.7L1506.8 1354.3L1508.2 1356.8L1509.5 1359.3L1510.9 1361.8L1512.4 1364.3L1513.8 1366.8L1515.3 1369.2L1516.9 1371.5L1518.6 1373.8L1520.3 1376.1L1522.1 1378.2L1524.1 1380.3L1526.1 1382.1L1528.3 1383.2L1530.7 1383.3L1533.1 1382.6L1535.6 1381.6L1538.0 1381.0L1540.3 1381.3L1542.4 1382.5L1544.5 1383.7L1546.7 1384.3L1549.1 1384.0L1551.6 1383.0L1554.2 1381.6L1556.7 1380.1L1559.1 1378.5L1561.5 1376.9L1563.9 1375.2L1566.2 1373.6L1568.5 1371.9L1570.7 1370.2L1572.9 1368.4L1575.1 1366.7L1577.3 1364.9L1579.5 1363.1L1581.6 1361.3L1583.8 1359.5L1585.9 1357.6L1588.1 1355.7L1590.3 1353.9L1592.5 1352.0L1594.7 1350.1L1596.9 1348.1L1599.2 1346.2L1601.5 1344.3L1603.8 1342.5L1606.1 1340.7L1608.5 1338.9L1610.9 1337.2L1613.3 1335.6L1615.8 1334.0L1618.3 1332.6L1620.8 1331.3L1623.3 1330.1L1625.9 1329.0L1628.5 1328.2L1631.2 1327.4L1633.8 1326.9L1636.5 1326.5L1639.3 1326.3L1642.1 1326.4L1644.9 1326.6L1647.7 1327.0L1650.5 1327.7L1653.3 1328.4L1656.1 1329.3L1658.9 1330.4L1661.6 1331.6L1664.2 1332.8L1666.8 1334.2L1669.3 1335.6L1671.8 1337.1L1674.1 1338.7L1676.4 1340.4L1678.7 1342.1L1680.9 1343.8L1683.0 1345.6L1685.1 1347.5L1687.2 1349.4L1689.2 1351.3L1691.2 1353.3L1693.2 1355.4L1695.1 1357.4L1697.0 1359.5L1698.9 1361.6L1700.8 1363.7L1702.7 1365.9L1704.6 1368.1L1706.4 1370.2L1708.3 1372.4L1710.1 1374.6L1711.9 1376.8L1713.8 1379.0L1715.6 1381.2L1717.5 1383.4L1719.3 1385.6L1721.2 1387.8L1723.1 1389.9L1725.0 1392.1L1726.9 1394.2L1728.9 1396.3L1730.9 1398.3L1732.9 1400.4L1734.9 1402.4L1736.9 1404.3L1738.9 1406.3L1741.0 1408.3L1743.0 1410.3L1745.0 1412.2L1747.0 1414.2L1749.0 1416.3L1750.9 1418.3L1752.8 1420.5L1754.6 1422.6L1756.4 1424.8L1758.1 1427.1L1759.8 1429.3L1761.4 1431.7L1763.1 1434.0L1764.7 1436.3L1766.3 1438.7L1767.9 1441.0L1769.6 1443.4L1771.2 1445.7L1772.8 1448.1L1774.5 1450.4L1776.1 1452.8L1777.8 1455.1L1779.5 1457.4L1781.2 1459.7L1782.9 1462.0L1784.6 1464.3L1786.3 1466.6L1788.0 1468.9L1789.8 1471.2L1791.5 1473.5L1793.2 1475.7L1795.0 1478.0L1796.7 1480.3L1798.5 1482.5L1800.3 1484.8L1802.1 1487.0L1803.8 1489.3L1805.6 1491.5L1807.4 1493.8L1809.2 1496.0L1811.0 1498.3L1812.8 1500.5L1814.6 1502.7L1816.4 1505.0L1818.2 1507.2L1820.0 1509.4L1821.8 1511.6L1823.6 1513.9L1825.4 1516.1L1827.3 1518.3L1829.1 1520.5L1830.9 1522.8L1832.7 1525.0L1834.5 1527.2L1836.4 1529.4L1838.2 1531.6L1840.0 1533.8L1841.8 1536.0L1843.7 1538.2L1845.5 1540.4L1847.4 1542.6L1849.3 1544.8L1851.1 1546.9L1853.0 1549.1L1854.9 1551.3L1856.8 1553.4L1858.7 1555.5L1860.6 1557.7L1862.5 1559.8L1864.4 1561.9L1866.4 1564.0L1868.3 1566.1L1870.3 1568.2L1872.3 1570.2L1874.2 1572.3L1876.2 1574.3L1878.3 1576.4L1880.3 1578.4L1882.3 1580.4L1884.4 1582.4L1886.5 1584.3L1888.5 1586.3L1890.7 1588.2L1892.8 1590.1L1894.9 1592.0L1897.1 1593.9L1899.2 1595.8L1901.4 1597.7L1903.6 1599.5L1905.8 1601.4L1908.0 1603.2L1910.2 1605.0L1912.5 1606.8L1914.7 1608.6L1917.0 1610.4L1919.3 1612.1L1921.6 1613.9L1923.9 1615.6L1926.2 1617.3L1928.5 1619.0L1930.8 1620.8L1933.1 1622.5L1935.4 1624.1L1937.8 1625.8L1940.1 1627.5L1942.5 1629.2L1944.8 1630.8L1947.2 1632.4L1949.6 1634.1L1951.9 1635.7L1954.3 1637.3L1956.7 1639.0L1959.1 1640.6L1961.5 1642.2L1963.8 1643.8L1966.2 1645.4L1968.6 1646.9L1971.0 1648.5L1973.4 1650.1L1975.8 1651.7L1978.2 1653.2L1980.6 1654.8L1983.1 1656.3L1985.5 1657.8L1987.9 1659.3L1990.4 1660.8L1992.8 1662.3L1995.2 1663.8L1997.7 1665.3L2000.2 1666.7L2002.6 1668.2L2005.1 1669.6L2007.6 1671.0L2010.1 1672.4L2012.6 1673.8L2015.1 1675.2L2017.7 1676.6L2020.2 1677.9L2022.8 1679.3L2025.3 1680.6L2027.9 1681.9L2030.5 1683.2L2033.1 1684.4L2035.7 1685.7L2038.3 1686.9L2040.9 1688.0L2043.6 1689.2L2046.2 1690.3L2048.9 1691.3L2051.6 1692.3L2054.3 1693.3L2057.1 1694.2L2059.8 1695.1L2062.6 1695.9L2065.4 1696.7L2068.1 1697.4L2071.0 1698.1L2073.8 1698.7L2076.6 1699.3L2079.4 1700.0L2082.2 1700.6L2085.0 1701.2L2087.8 1701.9L2090.6 1702.6L2093.4 1703.3L2096.1 1704.1L2098.8 1705.0L2101.5 1705.9L2104.1 1706.9L2106.8 1708.0L2109.4 1709.1L2111.9 1710.4L2114.5 1711.7L2117.0 1713.0L2119.5 1714.4L2122.0 1715.9L2124.4 1717.3L2126.9 1718.9L2129.3 1720.4L2131.8 1722.0L2134.2 1723.5L2136.6 1725.1L2139.0 1726.7L2141.5 1728.3L2143.9 1729.8L2146.4 1731.4L2148.8 1732.9L2151.3 1734.4L2153.8 1735.8L2156.2 1737.2L2158.8 1738.6L2161.3 1739.9L2163.8 1741.2L2166.4 1742.4L2169.0 1743.6L2171.6 1744.7L2174.2 1745.9L2176.9 1747.0L2179.5 1748.0L2182.2 1749.1L2184.8 1750.1L2187.5 1751.1L2190.2 1752.2L2192.9 1753.2L2195.6 1754.2L2198.3 1755.2L2201.0 1756.2L2203.7 1757.2L2206.4 1758.3"/>
<path stroke="#FF0080" d="M1371.7 1288.9L1371.4 1291.6L1371.2 1294.3L1371.0 1296.9L1370.9 1299.6L1370.9 1302.2L1370.9 1304.9L1371.0 1307.5L1371.1 1310.1L1371.2 1312.7L1371.4 1315.3L1371.7 1317.9L1372.0 1320.4L1372.3 1323.0L1372.7 1325.5L1373.1 1328.0L1373.6 1330.5L1374.1 1333.1L1374.6 1335.5L1375.2 1338.0L1375.8 1340.5L1376.4 1343.0L1377.1 1345.4L1377.8 1347.9L1378.5 1350.3L1379.3 1352.8L1380.1 1355.2L1380.9 1357.6L1381.7 1360.0L1382.6 1362.5L1383.5 1364.9L1384.4 1367.3L1385.4 1369.6L1386.3 1372.0L1387.3 1374.4L1388.3 1376.8L1389.3 1379.2L1390.3 1381.5L1391.3 1383.9L1392.3 1386.3L1393.4 1388.6L1394.5 1391.0L1395.5 1393.3L1396.6 1395.7L1397.7 1398.0L1398.8 1400.3L1399.9 1402.7L1401.0 1405.0L1402.1 1407.3L1403.3 1409.7L1404.4 1412.0L1405.6 1414.3L1406.8 1416.6L1408.0 1418.8L1409.2 1421.1L1410.4 1423.4L1411.7 1425.6L1413.0 1427.9L1414.3 1430.1L1415.6 1432.3L1416.9 1434.5L1418.3 1436.7L1419.7 1438.8L1421.1 1441.0L1422.5 1443.1L1424.0 1445.3L1425.4 1447.4L1427.0 1449.4L1428.5 1451.5L1430.1 1453.6L1431.6 1455.6L1433.3 1457.6L1434.9 1459.6L1436.6 1461.6L1438.2 1463.6L1439.9 1465.6L1441.5 1467.6L1443.1 1469.7L1444.7 1471.7L1446.3 1473.8L1447.8 1475.9L1449.3 1478.1L1450.7 1480.2L1452.3 1482.3L1453.9 1484.1L1455.7 1485.7L1457.8 1486.9L1460.0 1487.7L1462.4 1488.5L1464.8 1489.3L1467.1 1490.4L1469.3 1491.8L1471.4 1493.3L1473.5 1495.0L1475.6 1496.7L1477.6 1498.5L1479.7 1500.1L1481.7 1501.6L1483.8 1502.9L1485.9 1504.0L1488.1 1504.8L1490.2 1505.3L1492.4 1505.5L1494.7 1505.4L1496.9 1504.9L1499.2 1504.1L1501.4 1503.3L1503.7 1502.8L1505.9 1503.0L1508.1 1503.7L1510.4 1504.8L1512.7 1506.2L1515.0 1507.6L1517.4 1508.6L1519.8 1509.0L1522.2 1508.6L1524.6 1507.8L1527.0 1506.6L1529.3 1505.3L1531.6 1504.0L1533.9 1502.9L1536.0 1502.2L1538.0 1502.0L1540.0 1502.4L1541.9 1503.4L1543.8 1504.8L1545.8 1506.3L1547.8 1507.5L1550.0 1508.5L1552.3 1509.1L1554.7 1509.5L1557.1 1509.6L1559.6 1509.6L1562.2 1509.5L1564.8 1509.2L1567.4 1508.9L1570.0 1508.5L1572.6 1508.2L1575.2 1507.8L1577.8 1507.5L1580.4 1507.1L1583.0 1506.8L1585.6 1506.4L1588.2 1506.1L1590.8 1505.8L1593.3 1505.5L1595.9 1505.2L1598.5 1504.9L1601.0 1504.7L1603.6 1504.5L1606.2 1504.3L1608.7 1504.2L1611.3 1504.1L1613.8 1504.1L1616.4 1504.1L1618.9 1504.2L1621.5 1504.3L1624.0 1504.4L1626.6 1504.6L1629.1 1504.9L1631.7 1505.2L1634.2 1505.6L1636.7 1506.0L1639.3 1506.4L1641.8 1506.9L1644.3 1507.5L1646.8 1508.1L1649.3 1508.7L1651.8 1509.3L1654.3 1510.0L1656.8 1510.8L1659.3 1511.5L1661.8 1512.3L1664.3 1513.1L1666.7 1513.9L1669.2 1514.8L1671.7 1515.7L1674.1 1516.6L1676.5 1517.5L1679.0 1518.5L1681.4 1519.4L1683.8 1520.4L1686.2 1521.4L1688.6 1522.4L1691.0 1523.4L1693.4 1524.4L1695.7 1525.4L1698.1 1526.4L1700.5 1527.5L1702.8 1528.5L1705.1 1529.6L1707.5 1530.6L1709.8 1531.7L1712.1 1532.8L1714.5 1533.9L1716.8 1534.9L1719.1 1536.0L1721.4 1537.1L1723.7 1538.2L1726.0 1539.3L1728.3 1540.4L1730.6 1541.5L1732.9 1542.6L1735.3 1543.7L1737.6 1544.8L1739.9 1545.9L1742.2 1547.0L1744.5 1548.1L1746.8 1549.2L1749.1 1550.3L1751.4 1551.4L1753.7 1552.5L1756.0 1553.6L1758.4 1554.6L1760.7 1555.7L1763.0 1556.8L1765.4 1557.8L1767.7 1558.9L1770.0 1559.9L1772.4 1561.0L1774.7 1562.0L1777.1 1563.1L1779.5 1564.1L1781.8 1565.1L1784.2 1566.1L1786.6 1567.1L1789.0 1568.1L1791.3 1569.1L1793.7 1570.1L1796.1 1571.1L1798.5 1572.1L1800.9 1573.1L1803.3 1574.0L1805.7 1575.0L1808.2 1576.0L1810.6 1576.9L1813.0 1577.9L1815.4 1578.8L1817.9 1579.7L1820.3 1580.7L1822.7 1581.6L1825.2 1582.6L1827.6 1583.5L1830.0 1584.5L1832.4 1585.6L1834.7 1586.6L1837.0 1587.7L1839.3 1588.9L1841.5 1590.1L1843.7 1591.4L1845.8 1592.6L1847.9 1593.8L1849.9 1594.9L1851.8 1595.9L1853.6 1596.8L1855.4 1597.4L1857.1 1598.0L1858.7 1598.7L1860.5 1599.6L1862.3 1600.7L1864.1 1601.9L1866.1 1603.1L1868.2 1604.2L1870.4 1605.2L1872.6 1606.1L1875.0 1607.0L1877.4 1607.8L1879.8 1608.5L1882.3 1609.3L1884.9 1610.0L1887.4 1610.7L1890.0 1611.4L1892.5 1612.2L1895.0 1612.9L1897.5 1613.8L1899.9 1614.6L1902.3 1615.5L1904.7 1616.4L1907.1 1617.4L1909.5 1618.3L1911.9 1619.3L1914.2 1620.3L1916.6 1621.2L1919.0 1622.2L1921.3 1623.1L1923.7 1624.1L1926.1 1625.0L1928.5 1625.8L1930.9 1626.7L1933.4 1627.5L1935.8 1628.3L1938.3 1629.0L1940.7 1629.8L1943.2 1630.5L1945.7 1631.1L1948.2 1631.8L1950.7 1632.4L1953.3 1633.0L1955.8 1633.6L1958.3 1634.2L1960.9 1634.8L1963.4 1635.3L1966.0 1635.9L1968.5 1636.4L1971.0 1636.9L1973.6 1637.4L1976.1 1637.9L1978.7 1638.4L1981.2 1638.9L1983.8 1639.4L1986.3 1639.9L1988.9 1640.3L1991.4 1640.8L1993.9 1641.3L1996.4 1641.8L1998.9 1642.4L2001.4 1642.9L2003.9 1643.5L2006.4 1644.1L2008.9 1644.8L2011.3 1645.5L2013.8 1646.2L2016.2 1647.0L2018.7 1647.8L2021.1 1648.7L2023.5 1649.6L2025.9 1650.5L2028.3 1651.5L2030.7 1652.5L2033.0 1653.4L2035.4 1654.4L2037.8 1655.4L2040.2 1656.4L2042.6 1657.3L2045.0 1658.2L2047.4 1659.1L2049.8 1660.0L2052.2 1660.8L2054.7 1661.5L2057.1 1662.2L2059.6 1662.8L2062.1 1663.3L2064.6 1663.8L2067.1 1664.2L2069.7 1664.4L2072.2 1664.6L2074.8 1664.7L2077.4 1664.7L2080.1 1664.7L2082.7 1664.6L2085.3 1664.4L2088.0 1664.3L2090.6 1664.1L2093.2 1664.0L2095.9 1663.9L2098.5 1663.8L2101.1 1663.8L2103.7 1663.8L2106.3 1664.0L2108.8 1664.2L2111.3 1664.5L2113.8 1664.9L2116.3 1665.5L2118.7 1666.1L2121.1 1666.8L2123.5 1667.6L2125.9 1668.5L2128.2 1669.4L2130.6 1670.3L2133.0 1671.3L2135.3 1672.3L2137.7 1673.2L2140.1 1674.2L2142.5 1675.1L2144.9 1676.0L2147.2 1676.9L2149.7 1677.8L2152.1 1678.7L2154.5 1679.5L2156.9 1680.3L2159.4 1681.2L2161.8 1682.0L2164.2 1682.7L2166.7 1683.5L2169.2 1684.3L2171.6 1685.0L2174.1 1685.8L2176.6 1686.5L2179.0 1687.3L2181.5 1688.0L2184.0 1688.7L2186.5 1689.4L2189.0 1690.1L2191.5 1690.8L2193.9 1691.5L2196.4 1692.1L2198.9 1692.8L2201.4 1693.5L2203.9 1694.2L2206.4 1694.9"/>
</g>
<g class="lg" style="font-size:55px">
<path class="ll" stroke="#000080" d="M1822.5 1217.1H1890.9"/>
<text y="1238.3" style="font-size:57.5px"><tspan x="1911.0">1</tspan><tspan x="1952.5" dy="8.6" text-anchor="middle" style="font-size:68px">×</tspan><tspan x="2141.0" dy="-8.6" text-anchor="end" style="letter-spacing:-1.6px"> E-BGE</tspan></text>
<path class="ll" stroke="#FF0080" d="M1822.5 1283.2H1890.9"/>
<text y="1305.1" style="font-size:57.5px"><tspan x="1911.0">2</tspan><tspan x="1952.5" dy="8.6" text-anchor="middle" style="font-size:68px">×</tspan><tspan x="2141.0" dy="-8.6" text-anchor="end" style="letter-spacing:-1.6px"> E-BGE</tspan></text>
</g>
</svg>
</body>
</html>
